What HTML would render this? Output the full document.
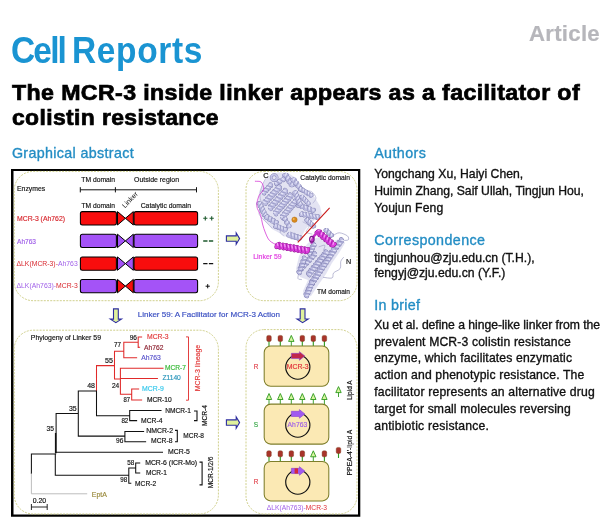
<!DOCTYPE html>
<html lang="en"><head><meta charset="utf-8"><title>Cell Reports - The MCR-3 inside linker appears as a facilitator of colistin resistance</title>
<style>
html,body{margin:0;padding:0;background:#fff;}
body{width:606px;height:530px;position:relative;overflow:hidden;will-change:transform;font-family:"Liberation Sans",Arial,Helvetica,sans-serif;}
.t{position:absolute;white-space:nowrap;line-height:1;margin:0;padding:0;}
svg{position:absolute;left:0;top:0;}
svg text{font-family:"Liberation Sans",Arial,Helvetica,sans-serif;}
</style></head><body>
<div class="t" id="t_cell" style="left:11.30px;top:31.51px;font-size:37.2px;font-weight:bold;color:#1a94d2;letter-spacing:-2.031px;transform-origin:0 0;transform:scaleX(0.9000)">Cell</div>
<div class="t" id="t_cell2" style="left:71.60px;top:31.51px;font-size:37.2px;font-weight:bold;color:#1a94d2;letter-spacing:0.729px;transform-origin:0 0;transform:scaleX(0.9000)">Reports</div>
<div class="t" id="t_art" style="left:528.90px;top:22.51px;font-size:22.2px;font-weight:bold;color:#b6b6bb;letter-spacing:0.290px;-webkit-text-stroke:0.2px #b6b6bb">Article</div>
<div class="t" id="t_title1" style="left:12.40px;top:81.72px;font-size:21.6px;font-weight:bold;color:#000;letter-spacing:0.350px;-webkit-text-stroke:0.7px #000;transform-origin:0 0;transform:scaleX(1.0736)">The MCR-3 inside linker appears as a facilitator of</div>
<div class="t" id="t_title2" style="left:12.40px;top:106.72px;font-size:21.6px;font-weight:bold;color:#000;letter-spacing:0.350px;-webkit-text-stroke:0.7px #000;transform-origin:0 0;transform:scaleX(1.0609)">colistin resistance</div>
<div class="t" id="t_ga" style="left:11.90px;top:146.30px;font-size:14.3px;font-weight:normal;color:#238dc4;letter-spacing:0.340px;-webkit-text-stroke:0.34px #238dc4">Graphical abstract</div>
<div class="t" id="t_auth" style="left:374.20px;top:146.00px;font-size:14.3px;font-weight:normal;color:#238dc4;letter-spacing:0.386px;-webkit-text-stroke:0.34px #238dc4">Authors</div>
<div class="t" id="t_a1" style="left:374.20px;top:167.77px;font-size:12.2px;font-weight:normal;color:#111;letter-spacing:0.016px;-webkit-text-stroke:0.34px #111">Yongchang Xu, Haiyi Chen,</div>
<div class="t" id="t_a2" style="left:374.20px;top:185.07px;font-size:12.2px;font-weight:normal;color:#111;letter-spacing:-0.006px;-webkit-text-stroke:0.34px #111">Huimin Zhang, Saif Ullah, Tingjun Hou,</div>
<div class="t" id="t_a3" style="left:374.20px;top:202.17px;font-size:12.2px;font-weight:normal;color:#111;letter-spacing:0.100px;-webkit-text-stroke:0.34px #111">Youjun Feng</div>
<div class="t" id="t_corr" style="left:374.20px;top:233.00px;font-size:14.3px;font-weight:normal;color:#238dc4;letter-spacing:0.391px;-webkit-text-stroke:0.34px #238dc4">Correspondence</div>
<div class="t" id="t_c1" style="left:374.20px;top:252.07px;font-size:12.2px;font-weight:normal;color:#111;letter-spacing:-0.012px;-webkit-text-stroke:0.34px #111">tingjunhou@zju.edu.cn (T.H.),</div>
<div class="t" id="t_c2" style="left:374.20px;top:267.07px;font-size:12.2px;font-weight:normal;color:#111;letter-spacing:-0.008px;-webkit-text-stroke:0.34px #111">fengyj@zju.edu.cn (Y.F.)</div>
<div class="t" id="t_brief" style="left:374.20px;top:297.90px;font-size:14.3px;font-weight:normal;color:#238dc4;letter-spacing:0.297px;-webkit-text-stroke:0.34px #238dc4">In brief</div>
<div class="t" id="t_b1" style="left:374.20px;top:319.07px;font-size:12.2px;font-weight:normal;color:#111;letter-spacing:-0.041px;-webkit-text-stroke:0.34px #111">Xu et al. define a hinge-like linker from the</div>
<div class="t" id="t_b2" style="left:374.20px;top:335.77px;font-size:12.2px;font-weight:normal;color:#111;letter-spacing:0.142px;-webkit-text-stroke:0.34px #111">prevalent MCR-3 colistin resistance</div>
<div class="t" id="t_b3" style="left:374.20px;top:352.47px;font-size:12.2px;font-weight:normal;color:#111;letter-spacing:0.140px;-webkit-text-stroke:0.34px #111">enzyme, which facilitates enzymatic</div>
<div class="t" id="t_b4" style="left:374.20px;top:369.27px;font-size:12.2px;font-weight:normal;color:#111;letter-spacing:0.139px;-webkit-text-stroke:0.34px #111">action and phenotypic resistance. The</div>
<div class="t" id="t_b5" style="left:374.20px;top:386.07px;font-size:12.2px;font-weight:normal;color:#111;letter-spacing:0.157px;-webkit-text-stroke:0.34px #111">facilitator represents an alternative drug</div>
<div class="t" id="t_b6" style="left:374.20px;top:402.87px;font-size:12.2px;font-weight:normal;color:#111;letter-spacing:0.118px;-webkit-text-stroke:0.34px #111">target for small molecules reversing</div>
<div class="t" id="t_b7" style="left:374.20px;top:419.67px;font-size:12.2px;font-weight:normal;color:#111;letter-spacing:0.208px;-webkit-text-stroke:0.34px #111">antibiotic resistance.</div>
<svg width="606" height="530" viewBox="0 0 606 530">
<path d="M11 169H360.3V516.7H11ZM13.5 171V514.5H358V171Z" fill="#000" fill-rule="evenodd"/>
<rect x="14.2" y="171.4" width="204.2" height="129.3" rx="19" fill="none" stroke="#c4c470" stroke-width="0.8" stroke-dasharray="2 1.2"/>
<rect x="14.2" y="330.2" width="204.2" height="183.8" rx="19" fill="none" stroke="#c4c470" stroke-width="0.8" stroke-dasharray="2 1.2"/>
<rect x="246" y="171.4" width="111" height="129.3" rx="18" fill="none" stroke="#c4c470" stroke-width="0.8" stroke-dasharray="2 1.2"/>
<rect x="246" y="329.6" width="111" height="184.4" rx="18" fill="none" stroke="#c4c470" stroke-width="0.8" stroke-dasharray="2 1.2"/>
<text x="17.0" y="191.0" font-size="6.9" fill="#111" stroke="#111" stroke-width="0.16" textLength="28.2" lengthAdjust="spacingAndGlyphs">Enzymes</text>
<text x="81.3" y="181.8" font-size="6.9" fill="#111" stroke="#111" stroke-width="0.16" textLength="33.7" lengthAdjust="spacingAndGlyphs">TM domain</text>
<text x="134.0" y="181.8" font-size="6.9" fill="#111" stroke="#111" stroke-width="0.16" textLength="45.0" lengthAdjust="spacingAndGlyphs">Outside region</text>
<path d="M80.3 189.8H196.5M80.3 187.2V192.4M115.4 187.2V192.4M196.5 187.2V192.4" stroke="#111" stroke-width="1" fill="none"/>
<text x="81.5" y="207.6" font-size="6.9" fill="#111" stroke="#111" stroke-width="0.16" textLength="33.5" lengthAdjust="spacingAndGlyphs">TM domain</text>
<text x="140.7" y="207.6" font-size="6.9" fill="#111" stroke="#111" stroke-width="0.16" textLength="50.3" lengthAdjust="spacingAndGlyphs">Catalytic domain</text>
<text x="125" y="208.5" font-size="6.9" fill="#111" textLength="19.5" lengthAdjust="spacingAndGlyphs" transform="rotate(-47 125 208.5)">Linker</text>
<rect x="80.4" y="211.6" width="36" height="13.4" rx="2" fill="#f80d0d" stroke="#000" stroke-width="1.05"/>
<path d="M117.5 211.6L125.4 218.29999999999998L117.5 225.0ZM133.3 211.6L125.4 218.29999999999998L133.3 225.0Z" fill="#f80d0d" stroke="#000" stroke-width="1.0" stroke-linejoin="round"/>
<rect x="134" y="211.6" width="63.6" height="13.4" rx="2" fill="#f80d0d" stroke="#000" stroke-width="1.05"/>
<rect x="80.4" y="234.2" width="36" height="13.4" rx="2" fill="#a453f7" stroke="#000" stroke-width="1.05"/>
<path d="M117.5 234.2L125.4 240.89999999999998L117.5 247.6ZM133.3 234.2L125.4 240.89999999999998L133.3 247.6Z" fill="#a453f7" stroke="#000" stroke-width="1.0" stroke-linejoin="round"/>
<rect x="134" y="234.2" width="63.6" height="13.4" rx="2" fill="#a453f7" stroke="#000" stroke-width="1.05"/>
<rect x="80.4" y="256.9" width="36" height="13.4" rx="2" fill="#f80d0d" stroke="#000" stroke-width="1.05"/>
<path d="M117.5 256.9L125.4 263.59999999999997L117.5 270.29999999999995ZM133.3 256.9L125.4 263.59999999999997L133.3 270.29999999999995Z" fill="#a453f7" stroke="#000" stroke-width="1.0" stroke-linejoin="round"/>
<rect x="134" y="256.9" width="63.6" height="13.4" rx="2" fill="#f80d0d" stroke="#000" stroke-width="1.05"/>
<rect x="80.4" y="279.4" width="36" height="13.4" rx="2" fill="#a453f7" stroke="#000" stroke-width="1.05"/>
<path d="M117.5 279.4L125.4 286.09999999999997L117.5 292.79999999999995ZM133.3 279.4L125.4 286.09999999999997L133.3 292.79999999999995Z" fill="#f80d0d" stroke="#000" stroke-width="1.0" stroke-linejoin="round"/>
<rect x="134" y="279.4" width="63.6" height="13.4" rx="2" fill="#a453f7" stroke="#000" stroke-width="1.05"/>
<text x="17.0" y="220.8" font-size="6.9" fill="#d8282f" stroke="#d8282f" stroke-width="0.16" textLength="48.0" lengthAdjust="spacingAndGlyphs">MCR-3 (Ah762)</text>
<text x="17.0" y="243.6" font-size="6.9" fill="#a060e8" stroke="#a060e8" stroke-width="0.16" textLength="19.0" lengthAdjust="spacingAndGlyphs">Ah763</text>
<text x="16.5" y="265.8" font-size="6.9" textLength="61.2" lengthAdjust="spacingAndGlyphs"><tspan fill="#d8282f">ΔLK(MCR-3)-</tspan><tspan fill="#a060e8">Ah763</tspan></text>
<text x="16.5" y="288.2" font-size="6.9" textLength="61.2" lengthAdjust="spacingAndGlyphs"><tspan fill="#a060e8">ΔLK(Ah763)-</tspan><tspan fill="#d8282f">MCR-3</tspan></text>
<path d="M203.2 218.3h4.2M205.3 216.2v4.2M209.6 218.3h4.2M211.7 216.2v4.2" stroke="#1e5a2e" stroke-width="1.1"/>
<path d="M203.2 241h4.3M208.9 241h4.3" stroke="#1e5a2e" stroke-width="1.4"/>
<path d="M203.2 263.6h4.3M208.9 263.6h4.3" stroke="#111" stroke-width="1.3"/>
<path d="M205.6 286.2h4.2M207.7 284.1v4.2" stroke="#111" stroke-width="1"/>
<path d="M113.5 308.9H118.30000000000001V319.1H121.5L115.9 322.70000000000005L110.30000000000001 319.1H113.5Z" fill="#e0f19c" stroke="#2c2ca0" stroke-width="1.1" stroke-linejoin="miter"/>
<path d="M300.20000000000005 308.9H305.0V319.0H308.20000000000005L302.6 322.6L297.0 319.0H300.20000000000005Z" fill="#e0f19c" stroke="#2c2ca0" stroke-width="1.1" stroke-linejoin="miter"/>
<path d="M226.4 235.9H236.2V233.0L239.6 238.6L236.2 244.2V241.29999999999998H226.4Z" fill="#e0f19c" stroke="#2c2ca0" stroke-width="1.1" stroke-linejoin="miter"/>
<path d="M226.4 419.90000000000003H236.2V417.0L239.6 422.6L236.2 428.20000000000005V425.3H226.4Z" fill="#e0f19c" stroke="#2c2ca0" stroke-width="1.1" stroke-linejoin="miter"/>
<text x="137.7" y="317.0" font-size="7.2" fill="#3a4fc2" stroke="#3a4fc2" stroke-width="0.16" textLength="142.3" lengthAdjust="spacingAndGlyphs">Linker 59: A Facilitator for MCR-3 Action</text>
<defs><filter id="soft" x="-5%" y="-5%" width="110%" height="110%"><feGaussianBlur stdDeviation="0.4"/></filter></defs>
<g id="protein">
<g filter="url(#soft)">
<path d="M268 176 L278 172.5 L288 173 L296 178 L301 187 L312 193 L320 206 L322 215 L312 222 L305 230 L301 238 L292 240 L283 235 L272 229 L263 219 L258 206 L259 192 L263 183Z" fill="#d0d0ea" opacity="0.6"/>
<path d="M308 243 L316 238 L329 236 L334 241 L341 238 L345 243 L339 253 L332 263 L326 274 L319 284 L311 296 L304 298 L303 291 L308 280 L300 277 L296 269 L299 256 L304 248Z" fill="#d0d0ea" opacity="0.6"/>
<path d="M266.0 178.0 C265.3 179.3 263.0 183.0 262.0 186.0 C261.0 189.0 260.0 192.5 260.0 196.0 C260.0 199.5 262.2 204.0 262.0 207.0 C261.8 210.0 258.3 211.5 259.0 214.0 C259.7 216.5 263.8 219.7 266.0 222.0 C268.2 224.3 271.0 227.0 272.0 228.0" fill="none" stroke="#a4a4cc" stroke-width="0.6" stroke-linejoin="round" stroke-linecap="round"/>
<path d="M300.0 186.0 C301.0 186.7 304.0 189.0 306.0 190.0 C308.0 191.0 310.3 190.7 312.0 192.0 C313.7 193.3 315.8 196.2 316.0 198.0 C316.2 199.8 313.5 202.2 313.0 203.0" fill="none" stroke="#a4a4cc" stroke-width="0.6" stroke-linejoin="round" stroke-linecap="round"/>
<path d="M303.0 222.0 C304.0 222.7 308.5 224.3 309.0 226.0 C309.5 227.7 305.5 230.7 306.0 232.0 C306.5 233.3 311.0 233.7 312.0 234.0" fill="none" stroke="#a4a4cc" stroke-width="0.6" stroke-linejoin="round" stroke-linecap="round"/>
<path d="M285.0 228.0 C284.2 228.7 280.2 230.7 280.0 232.0 C279.8 233.3 283.3 235.3 284.0 236.0" fill="none" stroke="#a4a4cc" stroke-width="0.6" stroke-linejoin="round" stroke-linecap="round"/>
<path d="M333.6 235.2 C334.6 234.8 337.1 232.7 339.4 232.8 C341.7 232.9 345.9 234.7 347.4 235.9 C348.9 237.1 348.9 239.1 348.3 239.8 C347.7 240.6 344.5 240.3 343.7 240.4" fill="none" stroke="#8f8fba" stroke-width="0.6" stroke-linejoin="round" stroke-linecap="round"/>
<path d="M319.0 246.8 C320.0 246.6 324.1 244.7 324.8 245.3 C325.5 245.9 323.6 249.6 323.4 250.4" fill="none" stroke="#8f8fba" stroke-width="0.55" stroke-linejoin="round" stroke-linecap="round"/>
<path d="M343.5 257.5 C343.1 258.1 341.4 259.4 340.8 261.3 C340.2 263.2 341.3 266.7 340.1 268.6 C338.9 270.5 334.9 271.3 333.6 272.9 C332.3 274.5 333.8 277.3 332.1 278.0 C330.4 278.7 324.8 277.4 323.4 277.3" fill="none" stroke="#8686b4" stroke-width="0.55" stroke-linejoin="round" stroke-linecap="round"/>
<path d="M299.0 272.5 C298.8 273.5 297.6 277.3 298.0 278.5 C298.4 279.7 300.9 279.3 301.5 279.5" fill="none" stroke="#8f8fba" stroke-width="0.6" stroke-linejoin="round" stroke-linecap="round"/>
<g transform="translate(285.5 175.3) rotate(55.6)" stroke-linecap="round"><ellipse cx="0.00" cy="0" rx="2.17" ry="3.42" transform="rotate(30 0.00 0)" fill="#7e7eb0"/><ellipse cx="3.84" cy="0" rx="2.17" ry="3.42" transform="rotate(30 3.84 0)" fill="#7e7eb0"/><ellipse cx="7.67" cy="0" rx="2.17" ry="3.42" transform="rotate(30 7.67 0)" fill="#7e7eb0"/><ellipse cx="11.51" cy="0" rx="2.17" ry="3.42" transform="rotate(30 11.51 0)" fill="#7e7eb0"/><path d="M0 0H11.51" stroke="#7e7eb0" stroke-width="4.80" fill="none"/><ellipse cx="0.00" cy="0" rx="1.75" ry="3.00" transform="rotate(30 0.00 0)" fill="#bfbfe3"/><ellipse cx="3.84" cy="0" rx="1.75" ry="3.00" transform="rotate(30 3.84 0)" fill="#bfbfe3"/><ellipse cx="7.67" cy="0" rx="1.75" ry="3.00" transform="rotate(30 7.67 0)" fill="#bfbfe3"/><ellipse cx="11.51" cy="0" rx="1.75" ry="3.00" transform="rotate(30 11.51 0)" fill="#bfbfe3"/><path d="M0 0H11.51" stroke="#bfbfe3" stroke-width="3.96" fill="none"/><path d="M0.70 -2.25L2.80 2.25" stroke="#9898c6" stroke-width="0.77" stroke-linecap="butt" fill="none"/><path d="M-0.84 -1.80L0.00 0.00" stroke="#e6e6f8" stroke-width="1.12" fill="none"/><path d="M4.54 -2.25L6.64 2.25" stroke="#9898c6" stroke-width="0.77" stroke-linecap="butt" fill="none"/><path d="M3.00 -1.80L3.84 0.00" stroke="#e6e6f8" stroke-width="1.12" fill="none"/><path d="M8.37 -2.25L10.47 2.25" stroke="#9898c6" stroke-width="0.77" stroke-linecap="butt" fill="none"/><path d="M6.83 -1.80L7.67 0.00" stroke="#e6e6f8" stroke-width="1.12" fill="none"/><path d="M10.67 -1.80L11.51 0.00" stroke="#e6e6f8" stroke-width="1.12" fill="none"/></g>
<g transform="translate(293.5 179.8) rotate(51.7)" stroke-linecap="round"><ellipse cx="0.00" cy="0" rx="2.17" ry="3.22" transform="rotate(30 0.00 0)" fill="#7e7eb0"/><ellipse cx="4.03" cy="0" rx="2.17" ry="3.22" transform="rotate(30 4.03 0)" fill="#7e7eb0"/><ellipse cx="8.07" cy="0" rx="2.17" ry="3.22" transform="rotate(30 8.07 0)" fill="#7e7eb0"/><ellipse cx="12.10" cy="0" rx="2.17" ry="3.22" transform="rotate(30 12.10 0)" fill="#7e7eb0"/><path d="M0 0H12.10" stroke="#7e7eb0" stroke-width="4.48" fill="none"/><ellipse cx="0.00" cy="0" rx="1.75" ry="2.80" transform="rotate(30 0.00 0)" fill="#bfbfe3"/><ellipse cx="4.03" cy="0" rx="1.75" ry="2.80" transform="rotate(30 4.03 0)" fill="#bfbfe3"/><ellipse cx="8.07" cy="0" rx="1.75" ry="2.80" transform="rotate(30 8.07 0)" fill="#bfbfe3"/><ellipse cx="12.10" cy="0" rx="1.75" ry="2.80" transform="rotate(30 12.10 0)" fill="#bfbfe3"/><path d="M0 0H12.10" stroke="#bfbfe3" stroke-width="3.64" fill="none"/><path d="M0.70 -2.10L2.80 2.10" stroke="#9898c6" stroke-width="0.77" stroke-linecap="butt" fill="none"/><path d="M-0.84 -1.68L0.00 0.00" stroke="#e6e6f8" stroke-width="1.12" fill="none"/><path d="M4.73 -2.10L6.83 2.10" stroke="#9898c6" stroke-width="0.77" stroke-linecap="butt" fill="none"/><path d="M3.19 -1.68L4.03 0.00" stroke="#e6e6f8" stroke-width="1.12" fill="none"/><path d="M8.77 -2.10L10.87 2.10" stroke="#9898c6" stroke-width="0.77" stroke-linecap="butt" fill="none"/><path d="M7.23 -1.68L8.07 0.00" stroke="#e6e6f8" stroke-width="1.12" fill="none"/><path d="M11.26 -1.68L12.10 0.00" stroke="#e6e6f8" stroke-width="1.12" fill="none"/></g>
<g transform="translate(300.6 188.9) rotate(31.8)" stroke-linecap="round"><ellipse cx="0.00" cy="0" rx="2.17" ry="2.52" transform="rotate(30 0.00 0)" fill="#7e7eb0"/><ellipse cx="3.09" cy="0" rx="2.17" ry="2.52" transform="rotate(30 3.09 0)" fill="#7e7eb0"/><ellipse cx="6.17" cy="0" rx="2.17" ry="2.52" transform="rotate(30 6.17 0)" fill="#7e7eb0"/><ellipse cx="9.26" cy="0" rx="2.17" ry="2.52" transform="rotate(30 9.26 0)" fill="#7e7eb0"/><ellipse cx="12.35" cy="0" rx="2.17" ry="2.52" transform="rotate(30 12.35 0)" fill="#7e7eb0"/><path d="M0 0H12.35" stroke="#7e7eb0" stroke-width="3.36" fill="none"/><ellipse cx="0.00" cy="0" rx="1.75" ry="2.10" transform="rotate(30 0.00 0)" fill="#bfbfe3"/><ellipse cx="3.09" cy="0" rx="1.75" ry="2.10" transform="rotate(30 3.09 0)" fill="#bfbfe3"/><ellipse cx="6.17" cy="0" rx="1.75" ry="2.10" transform="rotate(30 6.17 0)" fill="#bfbfe3"/><ellipse cx="9.26" cy="0" rx="1.75" ry="2.10" transform="rotate(30 9.26 0)" fill="#bfbfe3"/><ellipse cx="12.35" cy="0" rx="1.75" ry="2.10" transform="rotate(30 12.35 0)" fill="#bfbfe3"/><path d="M0 0H12.35" stroke="#bfbfe3" stroke-width="2.52" fill="none"/><path d="M0.70 -1.58L2.80 1.58" stroke="#9898c6" stroke-width="0.77" stroke-linecap="butt" fill="none"/><path d="M-0.84 -1.26L0.00 0.00" stroke="#e6e6f8" stroke-width="1.12" fill="none"/><path d="M3.79 -1.58L5.89 1.58" stroke="#9898c6" stroke-width="0.77" stroke-linecap="butt" fill="none"/><path d="M2.25 -1.26L3.09 0.00" stroke="#e6e6f8" stroke-width="1.12" fill="none"/><path d="M6.87 -1.58L8.97 1.58" stroke="#9898c6" stroke-width="0.77" stroke-linecap="butt" fill="none"/><path d="M5.33 -1.26L6.17 0.00" stroke="#e6e6f8" stroke-width="1.12" fill="none"/><path d="M9.96 -1.58L12.06 1.58" stroke="#9898c6" stroke-width="0.77" stroke-linecap="butt" fill="none"/><path d="M8.42 -1.26L9.26 0.00" stroke="#e6e6f8" stroke-width="1.12" fill="none"/><path d="M11.51 -1.26L12.35 0.00" stroke="#e6e6f8" stroke-width="1.12" fill="none"/></g>
<g transform="translate(265.1 202.5) rotate(-46.6)" stroke-linecap="round"><ellipse cx="0.00" cy="0" rx="2.17" ry="3.52" transform="rotate(30 0.00 0)" fill="#7e7eb0"/><ellipse cx="3.47" cy="0" rx="2.17" ry="3.52" transform="rotate(30 3.47 0)" fill="#7e7eb0"/><ellipse cx="6.93" cy="0" rx="2.17" ry="3.52" transform="rotate(30 6.93 0)" fill="#7e7eb0"/><ellipse cx="10.40" cy="0" rx="2.17" ry="3.52" transform="rotate(30 10.40 0)" fill="#7e7eb0"/><ellipse cx="13.86" cy="0" rx="2.17" ry="3.52" transform="rotate(30 13.86 0)" fill="#7e7eb0"/><ellipse cx="17.33" cy="0" rx="2.17" ry="3.52" transform="rotate(30 17.33 0)" fill="#7e7eb0"/><ellipse cx="20.80" cy="0" rx="2.17" ry="3.52" transform="rotate(30 20.80 0)" fill="#7e7eb0"/><path d="M0 0H20.80" stroke="#7e7eb0" stroke-width="4.96" fill="none"/><ellipse cx="0.00" cy="0" rx="1.75" ry="3.10" transform="rotate(30 0.00 0)" fill="#bfbfe3"/><ellipse cx="3.47" cy="0" rx="1.75" ry="3.10" transform="rotate(30 3.47 0)" fill="#bfbfe3"/><ellipse cx="6.93" cy="0" rx="1.75" ry="3.10" transform="rotate(30 6.93 0)" fill="#bfbfe3"/><ellipse cx="10.40" cy="0" rx="1.75" ry="3.10" transform="rotate(30 10.40 0)" fill="#bfbfe3"/><ellipse cx="13.86" cy="0" rx="1.75" ry="3.10" transform="rotate(30 13.86 0)" fill="#bfbfe3"/><ellipse cx="17.33" cy="0" rx="1.75" ry="3.10" transform="rotate(30 17.33 0)" fill="#bfbfe3"/><ellipse cx="20.80" cy="0" rx="1.75" ry="3.10" transform="rotate(30 20.80 0)" fill="#bfbfe3"/><path d="M0 0H20.80" stroke="#bfbfe3" stroke-width="4.12" fill="none"/><path d="M0.70 -2.33L2.80 2.33" stroke="#9898c6" stroke-width="0.77" stroke-linecap="butt" fill="none"/><path d="M-0.84 -1.86L0.00 0.00" stroke="#e6e6f8" stroke-width="1.12" fill="none"/><path d="M4.17 -2.33L6.27 2.33" stroke="#9898c6" stroke-width="0.77" stroke-linecap="butt" fill="none"/><path d="M2.63 -1.86L3.47 0.00" stroke="#e6e6f8" stroke-width="1.12" fill="none"/><path d="M7.63 -2.33L9.73 2.33" stroke="#9898c6" stroke-width="0.77" stroke-linecap="butt" fill="none"/><path d="M6.09 -1.86L6.93 0.00" stroke="#e6e6f8" stroke-width="1.12" fill="none"/><path d="M11.10 -2.33L13.20 2.33" stroke="#9898c6" stroke-width="0.77" stroke-linecap="butt" fill="none"/><path d="M9.56 -1.86L10.40 0.00" stroke="#e6e6f8" stroke-width="1.12" fill="none"/><path d="M14.56 -2.33L16.66 2.33" stroke="#9898c6" stroke-width="0.77" stroke-linecap="butt" fill="none"/><path d="M13.02 -1.86L13.86 0.00" stroke="#e6e6f8" stroke-width="1.12" fill="none"/><path d="M18.03 -2.33L20.13 2.33" stroke="#9898c6" stroke-width="0.77" stroke-linecap="butt" fill="none"/><path d="M16.49 -1.86L17.33 0.00" stroke="#e6e6f8" stroke-width="1.12" fill="none"/><path d="M19.96 -1.86L20.80 0.00" stroke="#e6e6f8" stroke-width="1.12" fill="none"/></g>
<g transform="translate(270.4 207.7) rotate(-47.7)" stroke-linecap="round"><ellipse cx="0.00" cy="0" rx="2.17" ry="3.52" transform="rotate(30 0.00 0)" fill="#7e7eb0"/><ellipse cx="3.74" cy="0" rx="2.17" ry="3.52" transform="rotate(30 3.74 0)" fill="#7e7eb0"/><ellipse cx="7.48" cy="0" rx="2.17" ry="3.52" transform="rotate(30 7.48 0)" fill="#7e7eb0"/><ellipse cx="11.22" cy="0" rx="2.17" ry="3.52" transform="rotate(30 11.22 0)" fill="#7e7eb0"/><ellipse cx="14.96" cy="0" rx="2.17" ry="3.52" transform="rotate(30 14.96 0)" fill="#7e7eb0"/><ellipse cx="18.70" cy="0" rx="2.17" ry="3.52" transform="rotate(30 18.70 0)" fill="#7e7eb0"/><ellipse cx="22.44" cy="0" rx="2.17" ry="3.52" transform="rotate(30 22.44 0)" fill="#7e7eb0"/><path d="M0 0H22.44" stroke="#7e7eb0" stroke-width="4.96" fill="none"/><ellipse cx="0.00" cy="0" rx="1.75" ry="3.10" transform="rotate(30 0.00 0)" fill="#bfbfe3"/><ellipse cx="3.74" cy="0" rx="1.75" ry="3.10" transform="rotate(30 3.74 0)" fill="#bfbfe3"/><ellipse cx="7.48" cy="0" rx="1.75" ry="3.10" transform="rotate(30 7.48 0)" fill="#bfbfe3"/><ellipse cx="11.22" cy="0" rx="1.75" ry="3.10" transform="rotate(30 11.22 0)" fill="#bfbfe3"/><ellipse cx="14.96" cy="0" rx="1.75" ry="3.10" transform="rotate(30 14.96 0)" fill="#bfbfe3"/><ellipse cx="18.70" cy="0" rx="1.75" ry="3.10" transform="rotate(30 18.70 0)" fill="#bfbfe3"/><ellipse cx="22.44" cy="0" rx="1.75" ry="3.10" transform="rotate(30 22.44 0)" fill="#bfbfe3"/><path d="M0 0H22.44" stroke="#bfbfe3" stroke-width="4.12" fill="none"/><path d="M0.70 -2.33L2.80 2.33" stroke="#9898c6" stroke-width="0.77" stroke-linecap="butt" fill="none"/><path d="M-0.84 -1.86L0.00 0.00" stroke="#e6e6f8" stroke-width="1.12" fill="none"/><path d="M4.44 -2.33L6.54 2.33" stroke="#9898c6" stroke-width="0.77" stroke-linecap="butt" fill="none"/><path d="M2.90 -1.86L3.74 0.00" stroke="#e6e6f8" stroke-width="1.12" fill="none"/><path d="M8.18 -2.33L10.28 2.33" stroke="#9898c6" stroke-width="0.77" stroke-linecap="butt" fill="none"/><path d="M6.64 -1.86L7.48 0.00" stroke="#e6e6f8" stroke-width="1.12" fill="none"/><path d="M11.92 -2.33L14.02 2.33" stroke="#9898c6" stroke-width="0.77" stroke-linecap="butt" fill="none"/><path d="M10.38 -1.86L11.22 0.00" stroke="#e6e6f8" stroke-width="1.12" fill="none"/><path d="M15.66 -2.33L17.76 2.33" stroke="#9898c6" stroke-width="0.77" stroke-linecap="butt" fill="none"/><path d="M14.12 -1.86L14.96 0.00" stroke="#e6e6f8" stroke-width="1.12" fill="none"/><path d="M19.40 -2.33L21.50 2.33" stroke="#9898c6" stroke-width="0.77" stroke-linecap="butt" fill="none"/><path d="M17.86 -1.86L18.70 0.00" stroke="#e6e6f8" stroke-width="1.12" fill="none"/><path d="M21.60 -1.86L22.44 0.00" stroke="#e6e6f8" stroke-width="1.12" fill="none"/></g>
<g transform="translate(275.7 213.0) rotate(-48.9)" stroke-linecap="round"><ellipse cx="0.00" cy="0" rx="2.17" ry="3.52" transform="rotate(30 0.00 0)" fill="#7e7eb0"/><ellipse cx="3.28" cy="0" rx="2.17" ry="3.52" transform="rotate(30 3.28 0)" fill="#7e7eb0"/><ellipse cx="6.56" cy="0" rx="2.17" ry="3.52" transform="rotate(30 6.56 0)" fill="#7e7eb0"/><ellipse cx="9.84" cy="0" rx="2.17" ry="3.52" transform="rotate(30 9.84 0)" fill="#7e7eb0"/><ellipse cx="13.12" cy="0" rx="2.17" ry="3.52" transform="rotate(30 13.12 0)" fill="#7e7eb0"/><ellipse cx="16.40" cy="0" rx="2.17" ry="3.52" transform="rotate(30 16.40 0)" fill="#7e7eb0"/><ellipse cx="19.68" cy="0" rx="2.17" ry="3.52" transform="rotate(30 19.68 0)" fill="#7e7eb0"/><ellipse cx="22.96" cy="0" rx="2.17" ry="3.52" transform="rotate(30 22.96 0)" fill="#7e7eb0"/><path d="M0 0H22.96" stroke="#7e7eb0" stroke-width="4.96" fill="none"/><ellipse cx="0.00" cy="0" rx="1.75" ry="3.10" transform="rotate(30 0.00 0)" fill="#bfbfe3"/><ellipse cx="3.28" cy="0" rx="1.75" ry="3.10" transform="rotate(30 3.28 0)" fill="#bfbfe3"/><ellipse cx="6.56" cy="0" rx="1.75" ry="3.10" transform="rotate(30 6.56 0)" fill="#bfbfe3"/><ellipse cx="9.84" cy="0" rx="1.75" ry="3.10" transform="rotate(30 9.84 0)" fill="#bfbfe3"/><ellipse cx="13.12" cy="0" rx="1.75" ry="3.10" transform="rotate(30 13.12 0)" fill="#bfbfe3"/><ellipse cx="16.40" cy="0" rx="1.75" ry="3.10" transform="rotate(30 16.40 0)" fill="#bfbfe3"/><ellipse cx="19.68" cy="0" rx="1.75" ry="3.10" transform="rotate(30 19.68 0)" fill="#bfbfe3"/><ellipse cx="22.96" cy="0" rx="1.75" ry="3.10" transform="rotate(30 22.96 0)" fill="#bfbfe3"/><path d="M0 0H22.96" stroke="#bfbfe3" stroke-width="4.12" fill="none"/><path d="M0.70 -2.33L2.80 2.33" stroke="#9898c6" stroke-width="0.77" stroke-linecap="butt" fill="none"/><path d="M-0.84 -1.86L0.00 0.00" stroke="#e6e6f8" stroke-width="1.12" fill="none"/><path d="M3.98 -2.33L6.08 2.33" stroke="#9898c6" stroke-width="0.77" stroke-linecap="butt" fill="none"/><path d="M2.44 -1.86L3.28 0.00" stroke="#e6e6f8" stroke-width="1.12" fill="none"/><path d="M7.26 -2.33L9.36 2.33" stroke="#9898c6" stroke-width="0.77" stroke-linecap="butt" fill="none"/><path d="M5.72 -1.86L6.56 0.00" stroke="#e6e6f8" stroke-width="1.12" fill="none"/><path d="M10.54 -2.33L12.64 2.33" stroke="#9898c6" stroke-width="0.77" stroke-linecap="butt" fill="none"/><path d="M9.00 -1.86L9.84 0.00" stroke="#e6e6f8" stroke-width="1.12" fill="none"/><path d="M13.82 -2.33L15.92 2.33" stroke="#9898c6" stroke-width="0.77" stroke-linecap="butt" fill="none"/><path d="M12.28 -1.86L13.12 0.00" stroke="#e6e6f8" stroke-width="1.12" fill="none"/><path d="M17.10 -2.33L19.20 2.33" stroke="#9898c6" stroke-width="0.77" stroke-linecap="butt" fill="none"/><path d="M15.56 -1.86L16.40 0.00" stroke="#e6e6f8" stroke-width="1.12" fill="none"/><path d="M20.38 -2.33L22.48 2.33" stroke="#9898c6" stroke-width="0.77" stroke-linecap="butt" fill="none"/><path d="M18.84 -1.86L19.68 0.00" stroke="#e6e6f8" stroke-width="1.12" fill="none"/><path d="M22.12 -1.86L22.96 0.00" stroke="#e6e6f8" stroke-width="1.12" fill="none"/></g>
<g transform="translate(282.5 217.1) rotate(-49.7)" stroke-linecap="round"><ellipse cx="0.00" cy="0" rx="2.17" ry="3.42" transform="rotate(30 0.00 0)" fill="#7e7eb0"/><ellipse cx="3.30" cy="0" rx="2.17" ry="3.42" transform="rotate(30 3.30 0)" fill="#7e7eb0"/><ellipse cx="6.60" cy="0" rx="2.17" ry="3.42" transform="rotate(30 6.60 0)" fill="#7e7eb0"/><ellipse cx="9.90" cy="0" rx="2.17" ry="3.42" transform="rotate(30 9.90 0)" fill="#7e7eb0"/><ellipse cx="13.20" cy="0" rx="2.17" ry="3.42" transform="rotate(30 13.20 0)" fill="#7e7eb0"/><ellipse cx="16.50" cy="0" rx="2.17" ry="3.42" transform="rotate(30 16.50 0)" fill="#7e7eb0"/><ellipse cx="19.80" cy="0" rx="2.17" ry="3.42" transform="rotate(30 19.80 0)" fill="#7e7eb0"/><path d="M0 0H19.80" stroke="#7e7eb0" stroke-width="4.80" fill="none"/><ellipse cx="0.00" cy="0" rx="1.75" ry="3.00" transform="rotate(30 0.00 0)" fill="#bfbfe3"/><ellipse cx="3.30" cy="0" rx="1.75" ry="3.00" transform="rotate(30 3.30 0)" fill="#bfbfe3"/><ellipse cx="6.60" cy="0" rx="1.75" ry="3.00" transform="rotate(30 6.60 0)" fill="#bfbfe3"/><ellipse cx="9.90" cy="0" rx="1.75" ry="3.00" transform="rotate(30 9.90 0)" fill="#bfbfe3"/><ellipse cx="13.20" cy="0" rx="1.75" ry="3.00" transform="rotate(30 13.20 0)" fill="#bfbfe3"/><ellipse cx="16.50" cy="0" rx="1.75" ry="3.00" transform="rotate(30 16.50 0)" fill="#bfbfe3"/><ellipse cx="19.80" cy="0" rx="1.75" ry="3.00" transform="rotate(30 19.80 0)" fill="#bfbfe3"/><path d="M0 0H19.80" stroke="#bfbfe3" stroke-width="3.96" fill="none"/><path d="M0.70 -2.25L2.80 2.25" stroke="#9898c6" stroke-width="0.77" stroke-linecap="butt" fill="none"/><path d="M-0.84 -1.80L0.00 0.00" stroke="#e6e6f8" stroke-width="1.12" fill="none"/><path d="M4.00 -2.25L6.10 2.25" stroke="#9898c6" stroke-width="0.77" stroke-linecap="butt" fill="none"/><path d="M2.46 -1.80L3.30 0.00" stroke="#e6e6f8" stroke-width="1.12" fill="none"/><path d="M7.30 -2.25L9.40 2.25" stroke="#9898c6" stroke-width="0.77" stroke-linecap="butt" fill="none"/><path d="M5.76 -1.80L6.60 0.00" stroke="#e6e6f8" stroke-width="1.12" fill="none"/><path d="M10.60 -2.25L12.70 2.25" stroke="#9898c6" stroke-width="0.77" stroke-linecap="butt" fill="none"/><path d="M9.06 -1.80L9.90 0.00" stroke="#e6e6f8" stroke-width="1.12" fill="none"/><path d="M13.90 -2.25L16.00 2.25" stroke="#9898c6" stroke-width="0.77" stroke-linecap="butt" fill="none"/><path d="M12.36 -1.80L13.20 0.00" stroke="#e6e6f8" stroke-width="1.12" fill="none"/><path d="M17.20 -2.25L19.30 2.25" stroke="#9898c6" stroke-width="0.77" stroke-linecap="butt" fill="none"/><path d="M15.66 -1.80L16.50 0.00" stroke="#e6e6f8" stroke-width="1.12" fill="none"/><path d="M18.96 -1.80L19.80 0.00" stroke="#e6e6f8" stroke-width="1.12" fill="none"/></g>
<g transform="translate(259.4 203.5) rotate(64.8)" stroke-linecap="round"><ellipse cx="0.00" cy="0" rx="2.17" ry="3.12" transform="rotate(30 0.00 0)" fill="#7e7eb0"/><ellipse cx="3.18" cy="0" rx="2.17" ry="3.12" transform="rotate(30 3.18 0)" fill="#7e7eb0"/><ellipse cx="6.35" cy="0" rx="2.17" ry="3.12" transform="rotate(30 6.35 0)" fill="#7e7eb0"/><ellipse cx="9.53" cy="0" rx="2.17" ry="3.12" transform="rotate(30 9.53 0)" fill="#7e7eb0"/><ellipse cx="12.70" cy="0" rx="2.17" ry="3.12" transform="rotate(30 12.70 0)" fill="#7e7eb0"/><path d="M0 0H12.70" stroke="#7e7eb0" stroke-width="4.32" fill="none"/><ellipse cx="0.00" cy="0" rx="1.75" ry="2.70" transform="rotate(30 0.00 0)" fill="#bfbfe3"/><ellipse cx="3.18" cy="0" rx="1.75" ry="2.70" transform="rotate(30 3.18 0)" fill="#bfbfe3"/><ellipse cx="6.35" cy="0" rx="1.75" ry="2.70" transform="rotate(30 6.35 0)" fill="#bfbfe3"/><ellipse cx="9.53" cy="0" rx="1.75" ry="2.70" transform="rotate(30 9.53 0)" fill="#bfbfe3"/><ellipse cx="12.70" cy="0" rx="1.75" ry="2.70" transform="rotate(30 12.70 0)" fill="#bfbfe3"/><path d="M0 0H12.70" stroke="#bfbfe3" stroke-width="3.48" fill="none"/><path d="M0.70 -2.03L2.80 2.03" stroke="#9898c6" stroke-width="0.77" stroke-linecap="butt" fill="none"/><path d="M-0.84 -1.62L0.00 0.00" stroke="#e6e6f8" stroke-width="1.12" fill="none"/><path d="M3.88 -2.03L5.98 2.03" stroke="#9898c6" stroke-width="0.77" stroke-linecap="butt" fill="none"/><path d="M2.34 -1.62L3.18 0.00" stroke="#e6e6f8" stroke-width="1.12" fill="none"/><path d="M7.05 -2.03L9.15 2.03" stroke="#9898c6" stroke-width="0.77" stroke-linecap="butt" fill="none"/><path d="M5.51 -1.62L6.35 0.00" stroke="#e6e6f8" stroke-width="1.12" fill="none"/><path d="M10.23 -2.03L12.33 2.03" stroke="#9898c6" stroke-width="0.77" stroke-linecap="butt" fill="none"/><path d="M8.69 -1.62L9.53 0.00" stroke="#e6e6f8" stroke-width="1.12" fill="none"/><path d="M11.86 -1.62L12.70 0.00" stroke="#e6e6f8" stroke-width="1.12" fill="none"/></g>
<g transform="translate(266.9 217.1) rotate(32.1)" stroke-linecap="round"><ellipse cx="0.00" cy="0" rx="2.17" ry="3.12" transform="rotate(30 0.00 0)" fill="#7e7eb0"/><ellipse cx="3.58" cy="0" rx="2.17" ry="3.12" transform="rotate(30 3.58 0)" fill="#7e7eb0"/><ellipse cx="7.16" cy="0" rx="2.17" ry="3.12" transform="rotate(30 7.16 0)" fill="#7e7eb0"/><ellipse cx="10.74" cy="0" rx="2.17" ry="3.12" transform="rotate(30 10.74 0)" fill="#7e7eb0"/><path d="M0 0H10.74" stroke="#7e7eb0" stroke-width="4.32" fill="none"/><ellipse cx="0.00" cy="0" rx="1.75" ry="2.70" transform="rotate(30 0.00 0)" fill="#bfbfe3"/><ellipse cx="3.58" cy="0" rx="1.75" ry="2.70" transform="rotate(30 3.58 0)" fill="#bfbfe3"/><ellipse cx="7.16" cy="0" rx="1.75" ry="2.70" transform="rotate(30 7.16 0)" fill="#bfbfe3"/><ellipse cx="10.74" cy="0" rx="1.75" ry="2.70" transform="rotate(30 10.74 0)" fill="#bfbfe3"/><path d="M0 0H10.74" stroke="#bfbfe3" stroke-width="3.48" fill="none"/><path d="M0.70 -2.03L2.80 2.03" stroke="#9898c6" stroke-width="0.77" stroke-linecap="butt" fill="none"/><path d="M-0.84 -1.62L0.00 0.00" stroke="#e6e6f8" stroke-width="1.12" fill="none"/><path d="M4.28 -2.03L6.38 2.03" stroke="#9898c6" stroke-width="0.77" stroke-linecap="butt" fill="none"/><path d="M2.74 -1.62L3.58 0.00" stroke="#e6e6f8" stroke-width="1.12" fill="none"/><path d="M7.86 -2.03L9.96 2.03" stroke="#9898c6" stroke-width="0.77" stroke-linecap="butt" fill="none"/><path d="M6.32 -1.62L7.16 0.00" stroke="#e6e6f8" stroke-width="1.12" fill="none"/><path d="M9.90 -1.62L10.74 0.00" stroke="#e6e6f8" stroke-width="1.12" fill="none"/></g>
<g transform="translate(276.0 226.2) rotate(21.8)" stroke-linecap="round"><ellipse cx="0.00" cy="0" rx="2.17" ry="3.02" transform="rotate(30 0.00 0)" fill="#7e7eb0"/><ellipse cx="3.23" cy="0" rx="2.17" ry="3.02" transform="rotate(30 3.23 0)" fill="#7e7eb0"/><ellipse cx="6.46" cy="0" rx="2.17" ry="3.02" transform="rotate(30 6.46 0)" fill="#7e7eb0"/><ellipse cx="9.69" cy="0" rx="2.17" ry="3.02" transform="rotate(30 9.69 0)" fill="#7e7eb0"/><path d="M0 0H9.69" stroke="#7e7eb0" stroke-width="4.16" fill="none"/><ellipse cx="0.00" cy="0" rx="1.75" ry="2.60" transform="rotate(30 0.00 0)" fill="#bfbfe3"/><ellipse cx="3.23" cy="0" rx="1.75" ry="2.60" transform="rotate(30 3.23 0)" fill="#bfbfe3"/><ellipse cx="6.46" cy="0" rx="1.75" ry="2.60" transform="rotate(30 6.46 0)" fill="#bfbfe3"/><ellipse cx="9.69" cy="0" rx="1.75" ry="2.60" transform="rotate(30 9.69 0)" fill="#bfbfe3"/><path d="M0 0H9.69" stroke="#bfbfe3" stroke-width="3.32" fill="none"/><path d="M0.70 -1.95L2.80 1.95" stroke="#9898c6" stroke-width="0.77" stroke-linecap="butt" fill="none"/><path d="M-0.84 -1.56L0.00 0.00" stroke="#e6e6f8" stroke-width="1.12" fill="none"/><path d="M3.93 -1.95L6.03 1.95" stroke="#9898c6" stroke-width="0.77" stroke-linecap="butt" fill="none"/><path d="M2.39 -1.56L3.23 0.00" stroke="#e6e6f8" stroke-width="1.12" fill="none"/><path d="M7.16 -1.95L9.26 1.95" stroke="#9898c6" stroke-width="0.77" stroke-linecap="butt" fill="none"/><path d="M5.62 -1.56L6.46 0.00" stroke="#e6e6f8" stroke-width="1.12" fill="none"/><path d="M8.85 -1.56L9.69 0.00" stroke="#e6e6f8" stroke-width="1.12" fill="none"/></g>
<g transform="translate(298.6 205.0) rotate(20.8)" stroke-linecap="round"><ellipse cx="0.00" cy="0" rx="2.17" ry="3.12" transform="rotate(30 0.00 0)" fill="#7e7eb0"/><ellipse cx="3.88" cy="0" rx="2.17" ry="3.12" transform="rotate(30 3.88 0)" fill="#7e7eb0"/><ellipse cx="7.75" cy="0" rx="2.17" ry="3.12" transform="rotate(30 7.75 0)" fill="#7e7eb0"/><ellipse cx="11.63" cy="0" rx="2.17" ry="3.12" transform="rotate(30 11.63 0)" fill="#7e7eb0"/><ellipse cx="15.51" cy="0" rx="2.17" ry="3.12" transform="rotate(30 15.51 0)" fill="#7e7eb0"/><path d="M0 0H15.51" stroke="#7e7eb0" stroke-width="4.32" fill="none"/><ellipse cx="0.00" cy="0" rx="1.75" ry="2.70" transform="rotate(30 0.00 0)" fill="#bfbfe3"/><ellipse cx="3.88" cy="0" rx="1.75" ry="2.70" transform="rotate(30 3.88 0)" fill="#bfbfe3"/><ellipse cx="7.75" cy="0" rx="1.75" ry="2.70" transform="rotate(30 7.75 0)" fill="#bfbfe3"/><ellipse cx="11.63" cy="0" rx="1.75" ry="2.70" transform="rotate(30 11.63 0)" fill="#bfbfe3"/><ellipse cx="15.51" cy="0" rx="1.75" ry="2.70" transform="rotate(30 15.51 0)" fill="#bfbfe3"/><path d="M0 0H15.51" stroke="#bfbfe3" stroke-width="3.48" fill="none"/><path d="M0.70 -2.03L2.80 2.03" stroke="#9898c6" stroke-width="0.77" stroke-linecap="butt" fill="none"/><path d="M-0.84 -1.62L0.00 0.00" stroke="#e6e6f8" stroke-width="1.12" fill="none"/><path d="M4.58 -2.03L6.68 2.03" stroke="#9898c6" stroke-width="0.77" stroke-linecap="butt" fill="none"/><path d="M3.04 -1.62L3.88 0.00" stroke="#e6e6f8" stroke-width="1.12" fill="none"/><path d="M8.45 -2.03L10.55 2.03" stroke="#9898c6" stroke-width="0.77" stroke-linecap="butt" fill="none"/><path d="M6.91 -1.62L7.75 0.00" stroke="#e6e6f8" stroke-width="1.12" fill="none"/><path d="M12.33 -2.03L14.43 2.03" stroke="#9898c6" stroke-width="0.77" stroke-linecap="butt" fill="none"/><path d="M10.79 -1.62L11.63 0.00" stroke="#e6e6f8" stroke-width="1.12" fill="none"/><path d="M14.67 -1.62L15.51 0.00" stroke="#e6e6f8" stroke-width="1.12" fill="none"/></g>
<g transform="translate(301.6 214.1) rotate(10.6)" stroke-linecap="round"><ellipse cx="0.00" cy="0" rx="2.17" ry="3.02" transform="rotate(30 0.00 0)" fill="#7e7eb0"/><ellipse cx="3.26" cy="0" rx="2.17" ry="3.02" transform="rotate(30 3.26 0)" fill="#7e7eb0"/><ellipse cx="6.51" cy="0" rx="2.17" ry="3.02" transform="rotate(30 6.51 0)" fill="#7e7eb0"/><ellipse cx="9.77" cy="0" rx="2.17" ry="3.02" transform="rotate(30 9.77 0)" fill="#7e7eb0"/><ellipse cx="13.02" cy="0" rx="2.17" ry="3.02" transform="rotate(30 13.02 0)" fill="#7e7eb0"/><ellipse cx="16.28" cy="0" rx="2.17" ry="3.02" transform="rotate(30 16.28 0)" fill="#7e7eb0"/><path d="M0 0H16.28" stroke="#7e7eb0" stroke-width="4.16" fill="none"/><ellipse cx="0.00" cy="0" rx="1.75" ry="2.60" transform="rotate(30 0.00 0)" fill="#bfbfe3"/><ellipse cx="3.26" cy="0" rx="1.75" ry="2.60" transform="rotate(30 3.26 0)" fill="#bfbfe3"/><ellipse cx="6.51" cy="0" rx="1.75" ry="2.60" transform="rotate(30 6.51 0)" fill="#bfbfe3"/><ellipse cx="9.77" cy="0" rx="1.75" ry="2.60" transform="rotate(30 9.77 0)" fill="#bfbfe3"/><ellipse cx="13.02" cy="0" rx="1.75" ry="2.60" transform="rotate(30 13.02 0)" fill="#bfbfe3"/><ellipse cx="16.28" cy="0" rx="1.75" ry="2.60" transform="rotate(30 16.28 0)" fill="#bfbfe3"/><path d="M0 0H16.28" stroke="#bfbfe3" stroke-width="3.32" fill="none"/><path d="M0.70 -1.95L2.80 1.95" stroke="#9898c6" stroke-width="0.77" stroke-linecap="butt" fill="none"/><path d="M-0.84 -1.56L0.00 0.00" stroke="#e6e6f8" stroke-width="1.12" fill="none"/><path d="M3.96 -1.95L6.06 1.95" stroke="#9898c6" stroke-width="0.77" stroke-linecap="butt" fill="none"/><path d="M2.42 -1.56L3.26 0.00" stroke="#e6e6f8" stroke-width="1.12" fill="none"/><path d="M7.21 -1.95L9.31 1.95" stroke="#9898c6" stroke-width="0.77" stroke-linecap="butt" fill="none"/><path d="M5.67 -1.56L6.51 0.00" stroke="#e6e6f8" stroke-width="1.12" fill="none"/><path d="M10.47 -1.95L12.57 1.95" stroke="#9898c6" stroke-width="0.77" stroke-linecap="butt" fill="none"/><path d="M8.93 -1.56L9.77 0.00" stroke="#e6e6f8" stroke-width="1.12" fill="none"/><path d="M13.72 -1.95L15.82 1.95" stroke="#9898c6" stroke-width="0.77" stroke-linecap="butt" fill="none"/><path d="M12.18 -1.56L13.02 0.00" stroke="#e6e6f8" stroke-width="1.12" fill="none"/><path d="M15.44 -1.56L16.28 0.00" stroke="#e6e6f8" stroke-width="1.12" fill="none"/></g>
<g transform="translate(295.3 192.6) rotate(68.5)" stroke-linecap="round"><ellipse cx="0.00" cy="0" rx="2.17" ry="2.92" transform="rotate(30 0.00 0)" fill="#7e7eb0"/><ellipse cx="3.06" cy="0" rx="2.17" ry="2.92" transform="rotate(30 3.06 0)" fill="#7e7eb0"/><ellipse cx="6.13" cy="0" rx="2.17" ry="2.92" transform="rotate(30 6.13 0)" fill="#7e7eb0"/><ellipse cx="9.19" cy="0" rx="2.17" ry="2.92" transform="rotate(30 9.19 0)" fill="#7e7eb0"/><ellipse cx="12.26" cy="0" rx="2.17" ry="2.92" transform="rotate(30 12.26 0)" fill="#7e7eb0"/><path d="M0 0H12.26" stroke="#7e7eb0" stroke-width="4.00" fill="none"/><ellipse cx="0.00" cy="0" rx="1.75" ry="2.50" transform="rotate(30 0.00 0)" fill="#bfbfe3"/><ellipse cx="3.06" cy="0" rx="1.75" ry="2.50" transform="rotate(30 3.06 0)" fill="#bfbfe3"/><ellipse cx="6.13" cy="0" rx="1.75" ry="2.50" transform="rotate(30 6.13 0)" fill="#bfbfe3"/><ellipse cx="9.19" cy="0" rx="1.75" ry="2.50" transform="rotate(30 9.19 0)" fill="#bfbfe3"/><ellipse cx="12.26" cy="0" rx="1.75" ry="2.50" transform="rotate(30 12.26 0)" fill="#bfbfe3"/><path d="M0 0H12.26" stroke="#bfbfe3" stroke-width="3.16" fill="none"/><path d="M0.70 -1.88L2.80 1.88" stroke="#9898c6" stroke-width="0.77" stroke-linecap="butt" fill="none"/><path d="M-0.84 -1.50L0.00 0.00" stroke="#e6e6f8" stroke-width="1.12" fill="none"/><path d="M3.76 -1.88L5.86 1.88" stroke="#9898c6" stroke-width="0.77" stroke-linecap="butt" fill="none"/><path d="M2.22 -1.50L3.06 0.00" stroke="#e6e6f8" stroke-width="1.12" fill="none"/><path d="M6.83 -1.88L8.93 1.88" stroke="#9898c6" stroke-width="0.77" stroke-linecap="butt" fill="none"/><path d="M5.29 -1.50L6.13 0.00" stroke="#e6e6f8" stroke-width="1.12" fill="none"/><path d="M9.89 -1.88L11.99 1.88" stroke="#9898c6" stroke-width="0.77" stroke-linecap="butt" fill="none"/><path d="M8.35 -1.50L9.19 0.00" stroke="#e6e6f8" stroke-width="1.12" fill="none"/><path d="M11.42 -1.50L12.26 0.00" stroke="#e6e6f8" stroke-width="1.12" fill="none"/></g>
<g transform="translate(307.1 220.1) rotate(44.1)" stroke-linecap="round"><ellipse cx="0.00" cy="0" rx="2.17" ry="2.82" transform="rotate(30 0.00 0)" fill="#7e7eb0"/><ellipse cx="2.92" cy="0" rx="2.17" ry="2.82" transform="rotate(30 2.92 0)" fill="#7e7eb0"/><ellipse cx="5.85" cy="0" rx="2.17" ry="2.82" transform="rotate(30 5.85 0)" fill="#7e7eb0"/><ellipse cx="8.77" cy="0" rx="2.17" ry="2.82" transform="rotate(30 8.77 0)" fill="#7e7eb0"/><path d="M0 0H8.77" stroke="#7e7eb0" stroke-width="3.84" fill="none"/><ellipse cx="0.00" cy="0" rx="1.75" ry="2.40" transform="rotate(30 0.00 0)" fill="#bfbfe3"/><ellipse cx="2.92" cy="0" rx="1.75" ry="2.40" transform="rotate(30 2.92 0)" fill="#bfbfe3"/><ellipse cx="5.85" cy="0" rx="1.75" ry="2.40" transform="rotate(30 5.85 0)" fill="#bfbfe3"/><ellipse cx="8.77" cy="0" rx="1.75" ry="2.40" transform="rotate(30 8.77 0)" fill="#bfbfe3"/><path d="M0 0H8.77" stroke="#bfbfe3" stroke-width="3.00" fill="none"/><path d="M0.70 -1.80L2.80 1.80" stroke="#9898c6" stroke-width="0.77" stroke-linecap="butt" fill="none"/><path d="M-0.84 -1.44L0.00 0.00" stroke="#e6e6f8" stroke-width="1.12" fill="none"/><path d="M3.62 -1.80L5.72 1.80" stroke="#9898c6" stroke-width="0.77" stroke-linecap="butt" fill="none"/><path d="M2.08 -1.44L2.92 0.00" stroke="#e6e6f8" stroke-width="1.12" fill="none"/><path d="M6.55 -1.80L8.65 1.80" stroke="#9898c6" stroke-width="0.77" stroke-linecap="butt" fill="none"/><path d="M5.01 -1.44L5.85 0.00" stroke="#e6e6f8" stroke-width="1.12" fill="none"/><path d="M7.93 -1.44L8.77 0.00" stroke="#e6e6f8" stroke-width="1.12" fill="none"/></g>
<g transform="translate(263.9 192.6) rotate(-47.4)" stroke-linecap="round"><ellipse cx="0.00" cy="0" rx="2.17" ry="2.92" transform="rotate(30 0.00 0)" fill="#7e7eb0"/><ellipse cx="3.40" cy="0" rx="2.17" ry="2.92" transform="rotate(30 3.40 0)" fill="#7e7eb0"/><ellipse cx="6.79" cy="0" rx="2.17" ry="2.92" transform="rotate(30 6.79 0)" fill="#7e7eb0"/><ellipse cx="10.19" cy="0" rx="2.17" ry="2.92" transform="rotate(30 10.19 0)" fill="#7e7eb0"/><path d="M0 0H10.19" stroke="#7e7eb0" stroke-width="4.00" fill="none"/><ellipse cx="0.00" cy="0" rx="1.75" ry="2.50" transform="rotate(30 0.00 0)" fill="#bfbfe3"/><ellipse cx="3.40" cy="0" rx="1.75" ry="2.50" transform="rotate(30 3.40 0)" fill="#bfbfe3"/><ellipse cx="6.79" cy="0" rx="1.75" ry="2.50" transform="rotate(30 6.79 0)" fill="#bfbfe3"/><ellipse cx="10.19" cy="0" rx="1.75" ry="2.50" transform="rotate(30 10.19 0)" fill="#bfbfe3"/><path d="M0 0H10.19" stroke="#bfbfe3" stroke-width="3.16" fill="none"/><path d="M0.70 -1.88L2.80 1.88" stroke="#9898c6" stroke-width="0.77" stroke-linecap="butt" fill="none"/><path d="M-0.84 -1.50L0.00 0.00" stroke="#e6e6f8" stroke-width="1.12" fill="none"/><path d="M4.10 -1.88L6.20 1.88" stroke="#9898c6" stroke-width="0.77" stroke-linecap="butt" fill="none"/><path d="M2.56 -1.50L3.40 0.00" stroke="#e6e6f8" stroke-width="1.12" fill="none"/><path d="M7.49 -1.88L9.59 1.88" stroke="#9898c6" stroke-width="0.77" stroke-linecap="butt" fill="none"/><path d="M5.95 -1.50L6.79 0.00" stroke="#e6e6f8" stroke-width="1.12" fill="none"/><path d="M9.35 -1.50L10.19 0.00" stroke="#e6e6f8" stroke-width="1.12" fill="none"/></g>
<g transform="translate(276.4 183.3) rotate(-28.8)" stroke-linecap="round"><ellipse cx="0.00" cy="0" rx="2.17" ry="2.82" transform="rotate(30 0.00 0)" fill="#7e7eb0"/><ellipse cx="4.05" cy="0" rx="2.17" ry="2.82" transform="rotate(30 4.05 0)" fill="#7e7eb0"/><ellipse cx="8.10" cy="0" rx="2.17" ry="2.82" transform="rotate(30 8.10 0)" fill="#7e7eb0"/><path d="M0 0H8.10" stroke="#7e7eb0" stroke-width="3.84" fill="none"/><ellipse cx="0.00" cy="0" rx="1.75" ry="2.40" transform="rotate(30 0.00 0)" fill="#bfbfe3"/><ellipse cx="4.05" cy="0" rx="1.75" ry="2.40" transform="rotate(30 4.05 0)" fill="#bfbfe3"/><ellipse cx="8.10" cy="0" rx="1.75" ry="2.40" transform="rotate(30 8.10 0)" fill="#bfbfe3"/><path d="M0 0H8.10" stroke="#bfbfe3" stroke-width="3.00" fill="none"/><path d="M0.70 -1.80L2.80 1.80" stroke="#9898c6" stroke-width="0.77" stroke-linecap="butt" fill="none"/><path d="M-0.84 -1.44L0.00 0.00" stroke="#e6e6f8" stroke-width="1.12" fill="none"/><path d="M4.75 -1.80L6.85 1.80" stroke="#9898c6" stroke-width="0.77" stroke-linecap="butt" fill="none"/><path d="M3.21 -1.44L4.05 0.00" stroke="#e6e6f8" stroke-width="1.12" fill="none"/><path d="M7.26 -1.44L8.10 0.00" stroke="#e6e6f8" stroke-width="1.12" fill="none"/></g>
<g transform="translate(285.0 219.1) rotate(61.2)" stroke-linecap="round"><ellipse cx="0.00" cy="0" rx="2.17" ry="2.72" transform="rotate(30 0.00 0)" fill="#7e7eb0"/><ellipse cx="4.05" cy="0" rx="2.17" ry="2.72" transform="rotate(30 4.05 0)" fill="#7e7eb0"/><ellipse cx="8.10" cy="0" rx="2.17" ry="2.72" transform="rotate(30 8.10 0)" fill="#7e7eb0"/><path d="M0 0H8.10" stroke="#7e7eb0" stroke-width="3.68" fill="none"/><ellipse cx="0.00" cy="0" rx="1.75" ry="2.30" transform="rotate(30 0.00 0)" fill="#bfbfe3"/><ellipse cx="4.05" cy="0" rx="1.75" ry="2.30" transform="rotate(30 4.05 0)" fill="#bfbfe3"/><ellipse cx="8.10" cy="0" rx="1.75" ry="2.30" transform="rotate(30 8.10 0)" fill="#bfbfe3"/><path d="M0 0H8.10" stroke="#bfbfe3" stroke-width="2.84" fill="none"/><path d="M0.70 -1.72L2.80 1.72" stroke="#9898c6" stroke-width="0.77" stroke-linecap="butt" fill="none"/><path d="M-0.84 -1.38L0.00 0.00" stroke="#e6e6f8" stroke-width="1.12" fill="none"/><path d="M4.75 -1.72L6.85 1.72" stroke="#9898c6" stroke-width="0.77" stroke-linecap="butt" fill="none"/><path d="M3.21 -1.38L4.05 0.00" stroke="#e6e6f8" stroke-width="1.12" fill="none"/><path d="M7.26 -1.38L8.10 0.00" stroke="#e6e6f8" stroke-width="1.12" fill="none"/></g>
<g transform="translate(302.1 196.9) rotate(47.7)" stroke-linecap="round"><ellipse cx="0.00" cy="0" rx="2.17" ry="2.62" transform="rotate(30 0.00 0)" fill="#7e7eb0"/><ellipse cx="2.97" cy="0" rx="2.17" ry="2.62" transform="rotate(30 2.97 0)" fill="#7e7eb0"/><ellipse cx="5.95" cy="0" rx="2.17" ry="2.62" transform="rotate(30 5.95 0)" fill="#7e7eb0"/><ellipse cx="8.92" cy="0" rx="2.17" ry="2.62" transform="rotate(30 8.92 0)" fill="#7e7eb0"/><path d="M0 0H8.92" stroke="#7e7eb0" stroke-width="3.52" fill="none"/><ellipse cx="0.00" cy="0" rx="1.75" ry="2.20" transform="rotate(30 0.00 0)" fill="#bfbfe3"/><ellipse cx="2.97" cy="0" rx="1.75" ry="2.20" transform="rotate(30 2.97 0)" fill="#bfbfe3"/><ellipse cx="5.95" cy="0" rx="1.75" ry="2.20" transform="rotate(30 5.95 0)" fill="#bfbfe3"/><ellipse cx="8.92" cy="0" rx="1.75" ry="2.20" transform="rotate(30 8.92 0)" fill="#bfbfe3"/><path d="M0 0H8.92" stroke="#bfbfe3" stroke-width="2.68" fill="none"/><path d="M0.70 -1.65L2.80 1.65" stroke="#9898c6" stroke-width="0.77" stroke-linecap="butt" fill="none"/><path d="M-0.84 -1.32L0.00 0.00" stroke="#e6e6f8" stroke-width="1.12" fill="none"/><path d="M3.67 -1.65L5.77 1.65" stroke="#9898c6" stroke-width="0.77" stroke-linecap="butt" fill="none"/><path d="M2.13 -1.32L2.97 0.00" stroke="#e6e6f8" stroke-width="1.12" fill="none"/><path d="M6.65 -1.65L8.75 1.65" stroke="#9898c6" stroke-width="0.77" stroke-linecap="butt" fill="none"/><path d="M5.11 -1.32L5.95 0.00" stroke="#e6e6f8" stroke-width="1.12" fill="none"/><path d="M8.08 -1.32L8.92 0.00" stroke="#e6e6f8" stroke-width="1.12" fill="none"/></g>
<g transform="translate(289.5 234.6) rotate(19.8)" stroke-linecap="round"><ellipse cx="0.00" cy="0" rx="2.17" ry="3.52" transform="rotate(30 0.00 0)" fill="#7e7eb0"/><ellipse cx="3.54" cy="0" rx="2.17" ry="3.52" transform="rotate(30 3.54 0)" fill="#7e7eb0"/><ellipse cx="7.09" cy="0" rx="2.17" ry="3.52" transform="rotate(30 7.09 0)" fill="#7e7eb0"/><ellipse cx="10.63" cy="0" rx="2.17" ry="3.52" transform="rotate(30 10.63 0)" fill="#7e7eb0"/><path d="M0 0H10.63" stroke="#7e7eb0" stroke-width="4.96" fill="none"/><ellipse cx="0.00" cy="0" rx="1.75" ry="3.10" transform="rotate(30 0.00 0)" fill="#bfbfe3"/><ellipse cx="3.54" cy="0" rx="1.75" ry="3.10" transform="rotate(30 3.54 0)" fill="#bfbfe3"/><ellipse cx="7.09" cy="0" rx="1.75" ry="3.10" transform="rotate(30 7.09 0)" fill="#bfbfe3"/><ellipse cx="10.63" cy="0" rx="1.75" ry="3.10" transform="rotate(30 10.63 0)" fill="#bfbfe3"/><path d="M0 0H10.63" stroke="#bfbfe3" stroke-width="4.12" fill="none"/><path d="M0.70 -2.33L2.80 2.33" stroke="#9898c6" stroke-width="0.77" stroke-linecap="butt" fill="none"/><path d="M-0.84 -1.86L0.00 0.00" stroke="#e6e6f8" stroke-width="1.12" fill="none"/><path d="M4.24 -2.33L6.34 2.33" stroke="#9898c6" stroke-width="0.77" stroke-linecap="butt" fill="none"/><path d="M2.70 -1.86L3.54 0.00" stroke="#e6e6f8" stroke-width="1.12" fill="none"/><path d="M7.79 -2.33L9.89 2.33" stroke="#9898c6" stroke-width="0.77" stroke-linecap="butt" fill="none"/><path d="M6.25 -1.86L7.09 0.00" stroke="#e6e6f8" stroke-width="1.12" fill="none"/><path d="M9.79 -1.86L10.63 0.00" stroke="#e6e6f8" stroke-width="1.12" fill="none"/></g>
<circle cx="274.2" cy="177.6" r="3.0" fill="none" stroke="#8585b4" stroke-width="2.6"/><circle cx="274.2" cy="177.6" r="3.0" fill="none" stroke="#c3c3e6" stroke-width="1.8"/>
<circle cx="294.5" cy="219.7" r="2.7" fill="#d98a1e" stroke="#a86410" stroke-width="0.4"/>
<circle cx="293.7" cy="218.9" r="1" fill="#f2b95a"/>
<g transform="translate(341.6 240.2) rotate(127.6)" stroke-linecap="round"><ellipse cx="0.00" cy="0" rx="2.17" ry="3.32" transform="rotate(30 0.00 0)" fill="#7878ac"/><ellipse cx="4.04" cy="0" rx="2.17" ry="3.32" transform="rotate(30 4.04 0)" fill="#7878ac"/><ellipse cx="8.08" cy="0" rx="2.17" ry="3.32" transform="rotate(30 8.08 0)" fill="#7878ac"/><ellipse cx="12.12" cy="0" rx="2.17" ry="3.32" transform="rotate(30 12.12 0)" fill="#7878ac"/><path d="M0 0H12.12" stroke="#7878ac" stroke-width="4.64" fill="none"/><ellipse cx="0.00" cy="0" rx="1.75" ry="2.90" transform="rotate(30 0.00 0)" fill="#b9b9df"/><ellipse cx="4.04" cy="0" rx="1.75" ry="2.90" transform="rotate(30 4.04 0)" fill="#b9b9df"/><ellipse cx="8.08" cy="0" rx="1.75" ry="2.90" transform="rotate(30 8.08 0)" fill="#b9b9df"/><ellipse cx="12.12" cy="0" rx="1.75" ry="2.90" transform="rotate(30 12.12 0)" fill="#b9b9df"/><path d="M0 0H12.12" stroke="#b9b9df" stroke-width="3.80" fill="none"/><path d="M0.70 -2.18L2.80 2.18" stroke="#9090c0" stroke-width="0.77" stroke-linecap="butt" fill="none"/><path d="M-0.84 -1.74L0.00 0.00" stroke="#e6e6f8" stroke-width="1.12" fill="none"/><path d="M4.74 -2.18L6.84 2.18" stroke="#9090c0" stroke-width="0.77" stroke-linecap="butt" fill="none"/><path d="M3.20 -1.74L4.04 0.00" stroke="#e6e6f8" stroke-width="1.12" fill="none"/><path d="M8.78 -2.18L10.88 2.18" stroke="#9090c0" stroke-width="0.77" stroke-linecap="butt" fill="none"/><path d="M7.24 -1.74L8.08 0.00" stroke="#e6e6f8" stroke-width="1.12" fill="none"/><path d="M11.28 -1.74L12.12 0.00" stroke="#e6e6f8" stroke-width="1.12" fill="none"/></g>
<g transform="translate(333.6 250.4) rotate(123.7)" stroke-linecap="round"><ellipse cx="0.00" cy="0" rx="2.17" ry="3.62" transform="rotate(30 0.00 0)" fill="#7878ac"/><ellipse cx="3.47" cy="0" rx="2.17" ry="3.62" transform="rotate(30 3.47 0)" fill="#7878ac"/><ellipse cx="6.95" cy="0" rx="2.17" ry="3.62" transform="rotate(30 6.95 0)" fill="#7878ac"/><ellipse cx="10.42" cy="0" rx="2.17" ry="3.62" transform="rotate(30 10.42 0)" fill="#7878ac"/><ellipse cx="13.90" cy="0" rx="2.17" ry="3.62" transform="rotate(30 13.90 0)" fill="#7878ac"/><ellipse cx="17.37" cy="0" rx="2.17" ry="3.62" transform="rotate(30 17.37 0)" fill="#7878ac"/><ellipse cx="20.85" cy="0" rx="2.17" ry="3.62" transform="rotate(30 20.85 0)" fill="#7878ac"/><ellipse cx="24.32" cy="0" rx="2.17" ry="3.62" transform="rotate(30 24.32 0)" fill="#7878ac"/><ellipse cx="27.80" cy="0" rx="2.17" ry="3.62" transform="rotate(30 27.80 0)" fill="#7878ac"/><ellipse cx="31.27" cy="0" rx="2.17" ry="3.62" transform="rotate(30 31.27 0)" fill="#7878ac"/><ellipse cx="34.74" cy="0" rx="2.17" ry="3.62" transform="rotate(30 34.74 0)" fill="#7878ac"/><ellipse cx="38.22" cy="0" rx="2.17" ry="3.62" transform="rotate(30 38.22 0)" fill="#7878ac"/><path d="M0 0H38.22" stroke="#7878ac" stroke-width="5.12" fill="none"/><ellipse cx="0.00" cy="0" rx="1.75" ry="3.20" transform="rotate(30 0.00 0)" fill="#b9b9df"/><ellipse cx="3.47" cy="0" rx="1.75" ry="3.20" transform="rotate(30 3.47 0)" fill="#b9b9df"/><ellipse cx="6.95" cy="0" rx="1.75" ry="3.20" transform="rotate(30 6.95 0)" fill="#b9b9df"/><ellipse cx="10.42" cy="0" rx="1.75" ry="3.20" transform="rotate(30 10.42 0)" fill="#b9b9df"/><ellipse cx="13.90" cy="0" rx="1.75" ry="3.20" transform="rotate(30 13.90 0)" fill="#b9b9df"/><ellipse cx="17.37" cy="0" rx="1.75" ry="3.20" transform="rotate(30 17.37 0)" fill="#b9b9df"/><ellipse cx="20.85" cy="0" rx="1.75" ry="3.20" transform="rotate(30 20.85 0)" fill="#b9b9df"/><ellipse cx="24.32" cy="0" rx="1.75" ry="3.20" transform="rotate(30 24.32 0)" fill="#b9b9df"/><ellipse cx="27.80" cy="0" rx="1.75" ry="3.20" transform="rotate(30 27.80 0)" fill="#b9b9df"/><ellipse cx="31.27" cy="0" rx="1.75" ry="3.20" transform="rotate(30 31.27 0)" fill="#b9b9df"/><ellipse cx="34.74" cy="0" rx="1.75" ry="3.20" transform="rotate(30 34.74 0)" fill="#b9b9df"/><ellipse cx="38.22" cy="0" rx="1.75" ry="3.20" transform="rotate(30 38.22 0)" fill="#b9b9df"/><path d="M0 0H38.22" stroke="#b9b9df" stroke-width="4.28" fill="none"/><path d="M0.70 -2.40L2.80 2.40" stroke="#9090c0" stroke-width="0.77" stroke-linecap="butt" fill="none"/><path d="M-0.84 -1.92L0.00 0.00" stroke="#e6e6f8" stroke-width="1.12" fill="none"/><path d="M4.17 -2.40L6.27 2.40" stroke="#9090c0" stroke-width="0.77" stroke-linecap="butt" fill="none"/><path d="M2.63 -1.92L3.47 0.00" stroke="#e6e6f8" stroke-width="1.12" fill="none"/><path d="M7.65 -2.40L9.75 2.40" stroke="#9090c0" stroke-width="0.77" stroke-linecap="butt" fill="none"/><path d="M6.11 -1.92L6.95 0.00" stroke="#e6e6f8" stroke-width="1.12" fill="none"/><path d="M11.12 -2.40L13.22 2.40" stroke="#9090c0" stroke-width="0.77" stroke-linecap="butt" fill="none"/><path d="M9.58 -1.92L10.42 0.00" stroke="#e6e6f8" stroke-width="1.12" fill="none"/><path d="M14.60 -2.40L16.70 2.40" stroke="#9090c0" stroke-width="0.77" stroke-linecap="butt" fill="none"/><path d="M13.06 -1.92L13.90 0.00" stroke="#e6e6f8" stroke-width="1.12" fill="none"/><path d="M18.07 -2.40L20.17 2.40" stroke="#9090c0" stroke-width="0.77" stroke-linecap="butt" fill="none"/><path d="M16.53 -1.92L17.37 0.00" stroke="#e6e6f8" stroke-width="1.12" fill="none"/><path d="M21.55 -2.40L23.65 2.40" stroke="#9090c0" stroke-width="0.77" stroke-linecap="butt" fill="none"/><path d="M20.01 -1.92L20.85 0.00" stroke="#e6e6f8" stroke-width="1.12" fill="none"/><path d="M25.02 -2.40L27.12 2.40" stroke="#9090c0" stroke-width="0.77" stroke-linecap="butt" fill="none"/><path d="M23.48 -1.92L24.32 0.00" stroke="#e6e6f8" stroke-width="1.12" fill="none"/><path d="M28.50 -2.40L30.60 2.40" stroke="#9090c0" stroke-width="0.77" stroke-linecap="butt" fill="none"/><path d="M26.96 -1.92L27.80 0.00" stroke="#e6e6f8" stroke-width="1.12" fill="none"/><path d="M31.97 -2.40L34.07 2.40" stroke="#9090c0" stroke-width="0.77" stroke-linecap="butt" fill="none"/><path d="M30.43 -1.92L31.27 0.00" stroke="#e6e6f8" stroke-width="1.12" fill="none"/><path d="M35.44 -2.40L37.54 2.40" stroke="#9090c0" stroke-width="0.77" stroke-linecap="butt" fill="none"/><path d="M33.90 -1.92L34.74 0.00" stroke="#e6e6f8" stroke-width="1.12" fill="none"/><path d="M37.38 -1.92L38.22 0.00" stroke="#e6e6f8" stroke-width="1.12" fill="none"/></g>
<g transform="translate(311.8 283.0) rotate(114.1)" stroke-linecap="round"><ellipse cx="0.00" cy="0" rx="2.17" ry="3.32" transform="rotate(30 0.00 0)" fill="#7878ac"/><ellipse cx="3.37" cy="0" rx="2.17" ry="3.32" transform="rotate(30 3.37 0)" fill="#7878ac"/><ellipse cx="6.74" cy="0" rx="2.17" ry="3.32" transform="rotate(30 6.74 0)" fill="#7878ac"/><ellipse cx="10.11" cy="0" rx="2.17" ry="3.32" transform="rotate(30 10.11 0)" fill="#7878ac"/><ellipse cx="13.47" cy="0" rx="2.17" ry="3.32" transform="rotate(30 13.47 0)" fill="#7878ac"/><path d="M0 0H13.47" stroke="#7878ac" stroke-width="4.64" fill="none"/><ellipse cx="0.00" cy="0" rx="1.75" ry="2.90" transform="rotate(30 0.00 0)" fill="#b9b9df"/><ellipse cx="3.37" cy="0" rx="1.75" ry="2.90" transform="rotate(30 3.37 0)" fill="#b9b9df"/><ellipse cx="6.74" cy="0" rx="1.75" ry="2.90" transform="rotate(30 6.74 0)" fill="#b9b9df"/><ellipse cx="10.11" cy="0" rx="1.75" ry="2.90" transform="rotate(30 10.11 0)" fill="#b9b9df"/><ellipse cx="13.47" cy="0" rx="1.75" ry="2.90" transform="rotate(30 13.47 0)" fill="#b9b9df"/><path d="M0 0H13.47" stroke="#b9b9df" stroke-width="3.80" fill="none"/><path d="M0.70 -2.18L2.80 2.18" stroke="#9090c0" stroke-width="0.77" stroke-linecap="butt" fill="none"/><path d="M-0.84 -1.74L0.00 0.00" stroke="#e6e6f8" stroke-width="1.12" fill="none"/><path d="M4.07 -2.18L6.17 2.18" stroke="#9090c0" stroke-width="0.77" stroke-linecap="butt" fill="none"/><path d="M2.53 -1.74L3.37 0.00" stroke="#e6e6f8" stroke-width="1.12" fill="none"/><path d="M7.44 -2.18L9.54 2.18" stroke="#9090c0" stroke-width="0.77" stroke-linecap="butt" fill="none"/><path d="M5.90 -1.74L6.74 0.00" stroke="#e6e6f8" stroke-width="1.12" fill="none"/><path d="M10.81 -2.18L12.91 2.18" stroke="#9090c0" stroke-width="0.77" stroke-linecap="butt" fill="none"/><path d="M9.27 -1.74L10.11 0.00" stroke="#e6e6f8" stroke-width="1.12" fill="none"/><path d="M12.63 -1.74L13.47 0.00" stroke="#e6e6f8" stroke-width="1.12" fill="none"/></g>
<g transform="translate(326.3 252.6) rotate(129.1)" stroke-linecap="round"><ellipse cx="0.00" cy="0" rx="2.17" ry="3.52" transform="rotate(30 0.00 0)" fill="#7878ac"/><ellipse cx="3.45" cy="0" rx="2.17" ry="3.52" transform="rotate(30 3.45 0)" fill="#7878ac"/><ellipse cx="6.90" cy="0" rx="2.17" ry="3.52" transform="rotate(30 6.90 0)" fill="#7878ac"/><ellipse cx="10.34" cy="0" rx="2.17" ry="3.52" transform="rotate(30 10.34 0)" fill="#7878ac"/><ellipse cx="13.79" cy="0" rx="2.17" ry="3.52" transform="rotate(30 13.79 0)" fill="#7878ac"/><ellipse cx="17.24" cy="0" rx="2.17" ry="3.52" transform="rotate(30 17.24 0)" fill="#7878ac"/><ellipse cx="20.69" cy="0" rx="2.17" ry="3.52" transform="rotate(30 20.69 0)" fill="#7878ac"/><ellipse cx="24.13" cy="0" rx="2.17" ry="3.52" transform="rotate(30 24.13 0)" fill="#7878ac"/><ellipse cx="27.58" cy="0" rx="2.17" ry="3.52" transform="rotate(30 27.58 0)" fill="#7878ac"/><path d="M0 0H27.58" stroke="#7878ac" stroke-width="4.96" fill="none"/><ellipse cx="0.00" cy="0" rx="1.75" ry="3.10" transform="rotate(30 0.00 0)" fill="#b9b9df"/><ellipse cx="3.45" cy="0" rx="1.75" ry="3.10" transform="rotate(30 3.45 0)" fill="#b9b9df"/><ellipse cx="6.90" cy="0" rx="1.75" ry="3.10" transform="rotate(30 6.90 0)" fill="#b9b9df"/><ellipse cx="10.34" cy="0" rx="1.75" ry="3.10" transform="rotate(30 10.34 0)" fill="#b9b9df"/><ellipse cx="13.79" cy="0" rx="1.75" ry="3.10" transform="rotate(30 13.79 0)" fill="#b9b9df"/><ellipse cx="17.24" cy="0" rx="1.75" ry="3.10" transform="rotate(30 17.24 0)" fill="#b9b9df"/><ellipse cx="20.69" cy="0" rx="1.75" ry="3.10" transform="rotate(30 20.69 0)" fill="#b9b9df"/><ellipse cx="24.13" cy="0" rx="1.75" ry="3.10" transform="rotate(30 24.13 0)" fill="#b9b9df"/><ellipse cx="27.58" cy="0" rx="1.75" ry="3.10" transform="rotate(30 27.58 0)" fill="#b9b9df"/><path d="M0 0H27.58" stroke="#b9b9df" stroke-width="4.12" fill="none"/><path d="M0.70 -2.33L2.80 2.33" stroke="#9090c0" stroke-width="0.77" stroke-linecap="butt" fill="none"/><path d="M-0.84 -1.86L0.00 0.00" stroke="#e6e6f8" stroke-width="1.12" fill="none"/><path d="M4.15 -2.33L6.25 2.33" stroke="#9090c0" stroke-width="0.77" stroke-linecap="butt" fill="none"/><path d="M2.61 -1.86L3.45 0.00" stroke="#e6e6f8" stroke-width="1.12" fill="none"/><path d="M7.60 -2.33L9.70 2.33" stroke="#9090c0" stroke-width="0.77" stroke-linecap="butt" fill="none"/><path d="M6.06 -1.86L6.90 0.00" stroke="#e6e6f8" stroke-width="1.12" fill="none"/><path d="M11.04 -2.33L13.14 2.33" stroke="#9090c0" stroke-width="0.77" stroke-linecap="butt" fill="none"/><path d="M9.50 -1.86L10.34 0.00" stroke="#e6e6f8" stroke-width="1.12" fill="none"/><path d="M14.49 -2.33L16.59 2.33" stroke="#9090c0" stroke-width="0.77" stroke-linecap="butt" fill="none"/><path d="M12.95 -1.86L13.79 0.00" stroke="#e6e6f8" stroke-width="1.12" fill="none"/><path d="M17.94 -2.33L20.04 2.33" stroke="#9090c0" stroke-width="0.77" stroke-linecap="butt" fill="none"/><path d="M16.40 -1.86L17.24 0.00" stroke="#e6e6f8" stroke-width="1.12" fill="none"/><path d="M21.39 -2.33L23.49 2.33" stroke="#9090c0" stroke-width="0.77" stroke-linecap="butt" fill="none"/><path d="M19.85 -1.86L20.69 0.00" stroke="#e6e6f8" stroke-width="1.12" fill="none"/><path d="M24.83 -2.33L26.93 2.33" stroke="#9090c0" stroke-width="0.77" stroke-linecap="butt" fill="none"/><path d="M23.29 -1.86L24.13 0.00" stroke="#e6e6f8" stroke-width="1.12" fill="none"/><path d="M26.74 -1.86L27.58 0.00" stroke="#e6e6f8" stroke-width="1.12" fill="none"/></g>
<g transform="translate(314.7 254.0) rotate(133.3)" stroke-linecap="round"><ellipse cx="0.00" cy="0" rx="2.17" ry="3.32" transform="rotate(30 0.00 0)" fill="#7878ac"/><ellipse cx="3.85" cy="0" rx="2.17" ry="3.32" transform="rotate(30 3.85 0)" fill="#7878ac"/><ellipse cx="7.70" cy="0" rx="2.17" ry="3.32" transform="rotate(30 7.70 0)" fill="#7878ac"/><ellipse cx="11.54" cy="0" rx="2.17" ry="3.32" transform="rotate(30 11.54 0)" fill="#7878ac"/><ellipse cx="15.39" cy="0" rx="2.17" ry="3.32" transform="rotate(30 15.39 0)" fill="#7878ac"/><ellipse cx="19.24" cy="0" rx="2.17" ry="3.32" transform="rotate(30 19.24 0)" fill="#7878ac"/><path d="M0 0H19.24" stroke="#7878ac" stroke-width="4.64" fill="none"/><ellipse cx="0.00" cy="0" rx="1.75" ry="2.90" transform="rotate(30 0.00 0)" fill="#b9b9df"/><ellipse cx="3.85" cy="0" rx="1.75" ry="2.90" transform="rotate(30 3.85 0)" fill="#b9b9df"/><ellipse cx="7.70" cy="0" rx="1.75" ry="2.90" transform="rotate(30 7.70 0)" fill="#b9b9df"/><ellipse cx="11.54" cy="0" rx="1.75" ry="2.90" transform="rotate(30 11.54 0)" fill="#b9b9df"/><ellipse cx="15.39" cy="0" rx="1.75" ry="2.90" transform="rotate(30 15.39 0)" fill="#b9b9df"/><ellipse cx="19.24" cy="0" rx="1.75" ry="2.90" transform="rotate(30 19.24 0)" fill="#b9b9df"/><path d="M0 0H19.24" stroke="#b9b9df" stroke-width="3.80" fill="none"/><path d="M0.70 -2.18L2.80 2.18" stroke="#9090c0" stroke-width="0.77" stroke-linecap="butt" fill="none"/><path d="M-0.84 -1.74L0.00 0.00" stroke="#e6e6f8" stroke-width="1.12" fill="none"/><path d="M4.55 -2.18L6.65 2.18" stroke="#9090c0" stroke-width="0.77" stroke-linecap="butt" fill="none"/><path d="M3.01 -1.74L3.85 0.00" stroke="#e6e6f8" stroke-width="1.12" fill="none"/><path d="M8.40 -2.18L10.50 2.18" stroke="#9090c0" stroke-width="0.77" stroke-linecap="butt" fill="none"/><path d="M6.86 -1.74L7.70 0.00" stroke="#e6e6f8" stroke-width="1.12" fill="none"/><path d="M12.24 -2.18L14.34 2.18" stroke="#9090c0" stroke-width="0.77" stroke-linecap="butt" fill="none"/><path d="M10.70 -1.74L11.54 0.00" stroke="#e6e6f8" stroke-width="1.12" fill="none"/><path d="M16.09 -2.18L18.19 2.18" stroke="#9090c0" stroke-width="0.77" stroke-linecap="butt" fill="none"/><path d="M14.55 -1.74L15.39 0.00" stroke="#e6e6f8" stroke-width="1.12" fill="none"/><path d="M18.40 -1.74L19.24 0.00" stroke="#e6e6f8" stroke-width="1.12" fill="none"/></g>
<g transform="translate(304.5 258.4) rotate(111.3)" stroke-linecap="round"><ellipse cx="0.00" cy="0" rx="2.17" ry="3.02" transform="rotate(30 0.00 0)" fill="#7878ac"/><ellipse cx="3.78" cy="0" rx="2.17" ry="3.02" transform="rotate(30 3.78 0)" fill="#7878ac"/><ellipse cx="7.57" cy="0" rx="2.17" ry="3.02" transform="rotate(30 7.57 0)" fill="#7878ac"/><ellipse cx="11.35" cy="0" rx="2.17" ry="3.02" transform="rotate(30 11.35 0)" fill="#7878ac"/><ellipse cx="15.13" cy="0" rx="2.17" ry="3.02" transform="rotate(30 15.13 0)" fill="#7878ac"/><path d="M0 0H15.13" stroke="#7878ac" stroke-width="4.16" fill="none"/><ellipse cx="0.00" cy="0" rx="1.75" ry="2.60" transform="rotate(30 0.00 0)" fill="#b9b9df"/><ellipse cx="3.78" cy="0" rx="1.75" ry="2.60" transform="rotate(30 3.78 0)" fill="#b9b9df"/><ellipse cx="7.57" cy="0" rx="1.75" ry="2.60" transform="rotate(30 7.57 0)" fill="#b9b9df"/><ellipse cx="11.35" cy="0" rx="1.75" ry="2.60" transform="rotate(30 11.35 0)" fill="#b9b9df"/><ellipse cx="15.13" cy="0" rx="1.75" ry="2.60" transform="rotate(30 15.13 0)" fill="#b9b9df"/><path d="M0 0H15.13" stroke="#b9b9df" stroke-width="3.32" fill="none"/><path d="M0.70 -1.95L2.80 1.95" stroke="#9090c0" stroke-width="0.77" stroke-linecap="butt" fill="none"/><path d="M-0.84 -1.56L0.00 0.00" stroke="#e6e6f8" stroke-width="1.12" fill="none"/><path d="M4.48 -1.95L6.58 1.95" stroke="#9090c0" stroke-width="0.77" stroke-linecap="butt" fill="none"/><path d="M2.94 -1.56L3.78 0.00" stroke="#e6e6f8" stroke-width="1.12" fill="none"/><path d="M8.27 -1.95L10.37 1.95" stroke="#9090c0" stroke-width="0.77" stroke-linecap="butt" fill="none"/><path d="M6.73 -1.56L7.57 0.00" stroke="#e6e6f8" stroke-width="1.12" fill="none"/><path d="M12.05 -1.95L14.15 1.95" stroke="#9090c0" stroke-width="0.77" stroke-linecap="butt" fill="none"/><path d="M10.51 -1.56L11.35 0.00" stroke="#e6e6f8" stroke-width="1.12" fill="none"/><path d="M14.29 -1.56L15.13 0.00" stroke="#e6e6f8" stroke-width="1.12" fill="none"/></g>
<g transform="translate(314.0 244.6) rotate(118.3)" stroke-linecap="round"><ellipse cx="0.00" cy="0" rx="2.17" ry="3.02" transform="rotate(30 0.00 0)" fill="#7878ac"/><ellipse cx="3.37" cy="0" rx="2.17" ry="3.02" transform="rotate(30 3.37 0)" fill="#7878ac"/><ellipse cx="6.74" cy="0" rx="2.17" ry="3.02" transform="rotate(30 6.74 0)" fill="#7878ac"/><ellipse cx="10.11" cy="0" rx="2.17" ry="3.02" transform="rotate(30 10.11 0)" fill="#7878ac"/><path d="M0 0H10.11" stroke="#7878ac" stroke-width="4.16" fill="none"/><ellipse cx="0.00" cy="0" rx="1.75" ry="2.60" transform="rotate(30 0.00 0)" fill="#b9b9df"/><ellipse cx="3.37" cy="0" rx="1.75" ry="2.60" transform="rotate(30 3.37 0)" fill="#b9b9df"/><ellipse cx="6.74" cy="0" rx="1.75" ry="2.60" transform="rotate(30 6.74 0)" fill="#b9b9df"/><ellipse cx="10.11" cy="0" rx="1.75" ry="2.60" transform="rotate(30 10.11 0)" fill="#b9b9df"/><path d="M0 0H10.11" stroke="#b9b9df" stroke-width="3.32" fill="none"/><path d="M0.70 -1.95L2.80 1.95" stroke="#9090c0" stroke-width="0.77" stroke-linecap="butt" fill="none"/><path d="M-0.84 -1.56L0.00 0.00" stroke="#e6e6f8" stroke-width="1.12" fill="none"/><path d="M4.07 -1.95L6.17 1.95" stroke="#9090c0" stroke-width="0.77" stroke-linecap="butt" fill="none"/><path d="M2.53 -1.56L3.37 0.00" stroke="#e6e6f8" stroke-width="1.12" fill="none"/><path d="M7.44 -1.95L9.54 1.95" stroke="#9090c0" stroke-width="0.77" stroke-linecap="butt" fill="none"/><path d="M5.90 -1.56L6.74 0.00" stroke="#e6e6f8" stroke-width="1.12" fill="none"/><path d="M9.27 -1.56L10.11 0.00" stroke="#e6e6f8" stroke-width="1.12" fill="none"/></g>
<g transform="translate(326.3 230.2) rotate(46.1)" stroke-linecap="round"><ellipse cx="0.00" cy="0" rx="2.17" ry="2.82" transform="rotate(30 0.00 0)" fill="#7878ac"/><ellipse cx="3.61" cy="0" rx="2.17" ry="2.82" transform="rotate(30 3.61 0)" fill="#7878ac"/><ellipse cx="7.21" cy="0" rx="2.17" ry="2.82" transform="rotate(30 7.21 0)" fill="#7878ac"/><path d="M0 0H7.21" stroke="#7878ac" stroke-width="3.84" fill="none"/><ellipse cx="0.00" cy="0" rx="1.75" ry="2.40" transform="rotate(30 0.00 0)" fill="#b9b9df"/><ellipse cx="3.61" cy="0" rx="1.75" ry="2.40" transform="rotate(30 3.61 0)" fill="#b9b9df"/><ellipse cx="7.21" cy="0" rx="1.75" ry="2.40" transform="rotate(30 7.21 0)" fill="#b9b9df"/><path d="M0 0H7.21" stroke="#b9b9df" stroke-width="3.00" fill="none"/><path d="M0.70 -1.80L2.80 1.80" stroke="#9090c0" stroke-width="0.77" stroke-linecap="butt" fill="none"/><path d="M-0.84 -1.44L0.00 0.00" stroke="#e6e6f8" stroke-width="1.12" fill="none"/><path d="M4.31 -1.80L6.41 1.80" stroke="#9090c0" stroke-width="0.77" stroke-linecap="butt" fill="none"/><path d="M2.77 -1.44L3.61 0.00" stroke="#e6e6f8" stroke-width="1.12" fill="none"/><path d="M6.37 -1.44L7.21 0.00" stroke="#e6e6f8" stroke-width="1.12" fill="none"/></g>
<path d="M255.3 181.3 C256.3 181.5 259.9 180.8 261.3 182.2 C262.7 183.6 264.0 187.3 263.6 189.6 C263.2 191.8 260.1 192.9 259.0 195.7 C257.9 198.5 256.5 202.9 256.8 206.2 C257.1 209.5 259.7 212.3 260.6 215.3 C261.6 218.3 261.7 221.1 262.5 224.0 C263.3 226.9 264.3 230.2 265.5 233.0 C266.7 235.8 267.7 238.5 269.5 240.5 C271.3 242.5 275.3 244.2 276.5 245.0" fill="none" stroke="#d63ad6" stroke-width="0.8" stroke-linejoin="round" stroke-linecap="round"/>
<g transform="translate(277.8 245.5) rotate(10.0)" stroke-linecap="round"><ellipse cx="0.00" cy="0" rx="2.25" ry="4.25" transform="rotate(30 0.00 0)" fill="#8a188a"/><ellipse cx="3.68" cy="0" rx="2.25" ry="4.25" transform="rotate(30 3.68 0)" fill="#8a188a"/><ellipse cx="7.36" cy="0" rx="2.25" ry="4.25" transform="rotate(30 7.36 0)" fill="#8a188a"/><ellipse cx="11.04" cy="0" rx="2.25" ry="4.25" transform="rotate(30 11.04 0)" fill="#8a188a"/><ellipse cx="14.72" cy="0" rx="2.25" ry="4.25" transform="rotate(30 14.72 0)" fill="#8a188a"/><ellipse cx="18.40" cy="0" rx="2.25" ry="4.25" transform="rotate(30 18.40 0)" fill="#8a188a"/><ellipse cx="22.08" cy="0" rx="2.25" ry="4.25" transform="rotate(30 22.08 0)" fill="#8a188a"/><ellipse cx="25.76" cy="0" rx="2.25" ry="4.25" transform="rotate(30 25.76 0)" fill="#8a188a"/><ellipse cx="29.45" cy="0" rx="2.25" ry="4.25" transform="rotate(30 29.45 0)" fill="#8a188a"/><path d="M0 0H29.45" stroke="#8a188a" stroke-width="6.08" fill="none"/><ellipse cx="0.00" cy="0" rx="1.80" ry="3.80" transform="rotate(30 0.00 0)" fill="#dd3cdd"/><ellipse cx="3.68" cy="0" rx="1.80" ry="3.80" transform="rotate(30 3.68 0)" fill="#dd3cdd"/><ellipse cx="7.36" cy="0" rx="1.80" ry="3.80" transform="rotate(30 7.36 0)" fill="#dd3cdd"/><ellipse cx="11.04" cy="0" rx="1.80" ry="3.80" transform="rotate(30 11.04 0)" fill="#dd3cdd"/><ellipse cx="14.72" cy="0" rx="1.80" ry="3.80" transform="rotate(30 14.72 0)" fill="#dd3cdd"/><ellipse cx="18.40" cy="0" rx="1.80" ry="3.80" transform="rotate(30 18.40 0)" fill="#dd3cdd"/><ellipse cx="22.08" cy="0" rx="1.80" ry="3.80" transform="rotate(30 22.08 0)" fill="#dd3cdd"/><ellipse cx="25.76" cy="0" rx="1.80" ry="3.80" transform="rotate(30 25.76 0)" fill="#dd3cdd"/><ellipse cx="29.45" cy="0" rx="1.80" ry="3.80" transform="rotate(30 29.45 0)" fill="#dd3cdd"/><path d="M0 0H29.45" stroke="#dd3cdd" stroke-width="5.18" fill="none"/><path d="M0.72 -2.85L2.88 2.85" stroke="#a020a8" stroke-width="0.79" stroke-linecap="butt" fill="none"/><path d="M-0.86 -2.28L0.00 0.00" stroke="#f5a0f5" stroke-width="1.15" fill="none"/><path d="M4.40 -2.85L6.56 2.85" stroke="#a020a8" stroke-width="0.79" stroke-linecap="butt" fill="none"/><path d="M2.82 -2.28L3.68 0.00" stroke="#f5a0f5" stroke-width="1.15" fill="none"/><path d="M8.08 -2.85L10.24 2.85" stroke="#a020a8" stroke-width="0.79" stroke-linecap="butt" fill="none"/><path d="M6.50 -2.28L7.36 0.00" stroke="#f5a0f5" stroke-width="1.15" fill="none"/><path d="M11.76 -2.85L13.92 2.85" stroke="#a020a8" stroke-width="0.79" stroke-linecap="butt" fill="none"/><path d="M10.18 -2.28L11.04 0.00" stroke="#f5a0f5" stroke-width="1.15" fill="none"/><path d="M15.44 -2.85L17.60 2.85" stroke="#a020a8" stroke-width="0.79" stroke-linecap="butt" fill="none"/><path d="M13.86 -2.28L14.72 0.00" stroke="#f5a0f5" stroke-width="1.15" fill="none"/><path d="M19.12 -2.85L21.28 2.85" stroke="#a020a8" stroke-width="0.79" stroke-linecap="butt" fill="none"/><path d="M17.54 -2.28L18.40 0.00" stroke="#f5a0f5" stroke-width="1.15" fill="none"/><path d="M22.80 -2.85L24.96 2.85" stroke="#a020a8" stroke-width="0.79" stroke-linecap="butt" fill="none"/><path d="M21.22 -2.28L22.08 0.00" stroke="#f5a0f5" stroke-width="1.15" fill="none"/><path d="M26.48 -2.85L28.64 2.85" stroke="#a020a8" stroke-width="0.79" stroke-linecap="butt" fill="none"/><path d="M24.90 -2.28L25.76 0.00" stroke="#f5a0f5" stroke-width="1.15" fill="none"/><path d="M28.58 -2.28L29.45 0.00" stroke="#f5a0f5" stroke-width="1.15" fill="none"/></g>
<g transform="translate(318.3 232.2) rotate(40.1)" stroke-linecap="round"><ellipse cx="0.00" cy="0" rx="2.25" ry="3.95" transform="rotate(30 0.00 0)" fill="#8a188a"/><ellipse cx="3.85" cy="0" rx="2.25" ry="3.95" transform="rotate(30 3.85 0)" fill="#8a188a"/><ellipse cx="7.69" cy="0" rx="2.25" ry="3.95" transform="rotate(30 7.69 0)" fill="#8a188a"/><ellipse cx="11.54" cy="0" rx="2.25" ry="3.95" transform="rotate(30 11.54 0)" fill="#8a188a"/><ellipse cx="15.39" cy="0" rx="2.25" ry="3.95" transform="rotate(30 15.39 0)" fill="#8a188a"/><ellipse cx="19.23" cy="0" rx="2.25" ry="3.95" transform="rotate(30 19.23 0)" fill="#8a188a"/><path d="M0 0H19.23" stroke="#8a188a" stroke-width="5.60" fill="none"/><ellipse cx="0.00" cy="0" rx="1.80" ry="3.50" transform="rotate(30 0.00 0)" fill="#dd3cdd"/><ellipse cx="3.85" cy="0" rx="1.80" ry="3.50" transform="rotate(30 3.85 0)" fill="#dd3cdd"/><ellipse cx="7.69" cy="0" rx="1.80" ry="3.50" transform="rotate(30 7.69 0)" fill="#dd3cdd"/><ellipse cx="11.54" cy="0" rx="1.80" ry="3.50" transform="rotate(30 11.54 0)" fill="#dd3cdd"/><ellipse cx="15.39" cy="0" rx="1.80" ry="3.50" transform="rotate(30 15.39 0)" fill="#dd3cdd"/><ellipse cx="19.23" cy="0" rx="1.80" ry="3.50" transform="rotate(30 19.23 0)" fill="#dd3cdd"/><path d="M0 0H19.23" stroke="#dd3cdd" stroke-width="4.70" fill="none"/><path d="M0.72 -2.62L2.88 2.62" stroke="#a020a8" stroke-width="0.79" stroke-linecap="butt" fill="none"/><path d="M-0.86 -2.10L0.00 0.00" stroke="#f5a0f5" stroke-width="1.15" fill="none"/><path d="M4.57 -2.62L6.73 2.62" stroke="#a020a8" stroke-width="0.79" stroke-linecap="butt" fill="none"/><path d="M2.98 -2.10L3.85 0.00" stroke="#f5a0f5" stroke-width="1.15" fill="none"/><path d="M8.41 -2.62L10.57 2.62" stroke="#a020a8" stroke-width="0.79" stroke-linecap="butt" fill="none"/><path d="M6.83 -2.10L7.69 0.00" stroke="#f5a0f5" stroke-width="1.15" fill="none"/><path d="M12.26 -2.62L14.42 2.62" stroke="#a020a8" stroke-width="0.79" stroke-linecap="butt" fill="none"/><path d="M10.67 -2.10L11.54 0.00" stroke="#f5a0f5" stroke-width="1.15" fill="none"/><path d="M16.11 -2.62L18.27 2.62" stroke="#a020a8" stroke-width="0.79" stroke-linecap="butt" fill="none"/><path d="M14.52 -2.10L15.39 0.00" stroke="#f5a0f5" stroke-width="1.15" fill="none"/><path d="M18.37 -2.10L19.23 0.00" stroke="#f5a0f5" stroke-width="1.15" fill="none"/></g>
<path d="M311.5 242.5 C311.9 241.4 312.8 237.7 314.0 236.0 C315.2 234.3 317.8 233.1 318.5 232.5" fill="none" stroke="#c530c8" stroke-width="2.6" stroke-linejoin="round" stroke-linecap="round"/>
<ellipse cx="311.9" cy="239.2" rx="2.2" ry="2.9" fill="none" stroke="#7a1a8a" stroke-width="1.3"/>
<path d="M297.8 242.4L329.6 207.8" stroke="#c81818" stroke-width="1.1"/>
</g>
<text x="263.3" y="177.9" font-size="6.9" fill="#111" stroke="#111" stroke-width="0.16" textLength="5.3" lengthAdjust="spacingAndGlyphs">C</text>
<text x="300.3" y="180.3" font-size="6.9" fill="#111" stroke="#111" stroke-width="0.16" textLength="49.7" lengthAdjust="spacingAndGlyphs">Catalytic domain</text>
<text x="346.0" y="264.3" font-size="6.9" fill="#111" stroke="#111" stroke-width="0.16" textLength="5.2" lengthAdjust="spacingAndGlyphs">N</text>
<text x="316.9" y="294.0" font-size="6.9" fill="#111" stroke="#111" stroke-width="0.16" textLength="33.1" lengthAdjust="spacingAndGlyphs">TM domain</text>
<text x="253.2" y="259.2" font-size="7.1" fill="#e03ae0" stroke="#e03ae0" stroke-width="0.16" textLength="28.5" lengthAdjust="spacingAndGlyphs">Linker 59</text>
</g>
<g id="tree">
<text x="30.8" y="339.5" font-size="6.9" fill="#111" stroke="#111" stroke-width="0.16" textLength="70.2" lengthAdjust="spacingAndGlyphs">Phylogeny of Linker 59</text>
<path d="M138.2 336.9V347.4M138.2 337H141.6M138.2 347.2H139.6M123.8 342.2H138.2M123.8 342.2V357.7M123.8 357.7H136.6M114.5 351.3H123.8M114.5 351.3V379M96.5 365.6H114.5M96.5 365.6V391M114.5 379H120.4M120.4 368.2V394.3M120.4 368.2H163M120.4 378.5H157.4M120.4 394.3H131.7M131.7 389V399.9M131.7 389H138.6M131.7 399.9H141.6" stroke="#e02a2a" stroke-width="1.05" fill="none" stroke-linecap="square"/>
<path d="M96.5 391V415.7M78.3 391H96.5M96.5 415.7H129.7M129.7 410.5V420.6M129.7 410.5H161M129.7 420.6H136.6M78.3 391V436.1M78.3 436.1H124.9M124.9 431.4V441.7M124.9 431.4H143.6M124.9 441.7H145.6M56.1 413.5H78.3M56.1 413.5V452.4M56.1 452.2H162.5M55.3 454V475.3M31.4 454H55.6M31.4 454V473.4M55.3 475.3H128.8M128.8 468V483.3M128.8 468H135.7M135.7 463V473M135.7 463H139.7M135.7 473H139.7M128.8 483.3H130.8" stroke="#111" stroke-width="1.05" fill="none" stroke-linecap="square"/>
<path d="M55.6 433V453.5" stroke="#111" stroke-width="1.4" fill="none"/>
<path d="M31.4 473.4V493.8H87.2" stroke="#b5b5b5" stroke-width="0.9" fill="none"/>
<path d="M31.4 507H47.2M31.4 504V510M47.2 504V510" stroke="#111" stroke-width="0.9" fill="none"/>
<text x="32.8" y="502.7" font-size="6.9" fill="#111" stroke="#111" stroke-width="0.16" textLength="13.4" lengthAdjust="spacingAndGlyphs">0.20</text>
<text x="129.7" y="339.5" font-size="6.9" fill="#111" stroke="#111" stroke-width="0.16" textLength="7.3" lengthAdjust="spacingAndGlyphs">96</text>
<text x="114.0" y="347.4" font-size="6.9" fill="#111" stroke="#111" stroke-width="0.16" textLength="7.0" lengthAdjust="spacingAndGlyphs">77</text>
<text x="105.0" y="363.2" font-size="6.9" fill="#111" stroke="#111" stroke-width="0.16" textLength="7.9" lengthAdjust="spacingAndGlyphs">55</text>
<text x="111.9" y="388.4" font-size="6.9" fill="#111" stroke="#111" stroke-width="0.16" textLength="7.3" lengthAdjust="spacingAndGlyphs">24</text>
<text x="123.4" y="401.8" font-size="6.9" fill="#111" stroke="#111" stroke-width="0.16" textLength="6.6" lengthAdjust="spacingAndGlyphs">87</text>
<text x="121.4" y="422.6" font-size="6.9" fill="#111" stroke="#111" stroke-width="0.16" textLength="6.9" lengthAdjust="spacingAndGlyphs">82</text>
<text x="87.2" y="388.4" font-size="6.9" fill="#111" stroke="#111" stroke-width="0.16" textLength="7.8" lengthAdjust="spacingAndGlyphs">48</text>
<text x="69.0" y="411.0" font-size="6.9" fill="#111" stroke="#111" stroke-width="0.16" textLength="7.7" lengthAdjust="spacingAndGlyphs">35</text>
<text x="46.6" y="430.8" font-size="6.9" fill="#111" stroke="#111" stroke-width="0.16" textLength="7.4" lengthAdjust="spacingAndGlyphs">35</text>
<text x="116.0" y="443.3" font-size="6.9" fill="#111" stroke="#111" stroke-width="0.16" textLength="7.3" lengthAdjust="spacingAndGlyphs">96</text>
<text x="127.2" y="465.0" font-size="6.9" fill="#111" stroke="#111" stroke-width="0.16" textLength="7.0" lengthAdjust="spacingAndGlyphs">58</text>
<text x="120.3" y="482.3" font-size="6.9" fill="#111" stroke="#111" stroke-width="0.16" textLength="6.9" lengthAdjust="spacingAndGlyphs">98</text>
<text x="147.0" y="338.9" font-size="6.9" fill="#e23c3c" stroke="#e23c3c" stroke-width="0.16" textLength="21.5" lengthAdjust="spacingAndGlyphs">MCR-3</text>
<text x="144.0" y="349.8" font-size="6.9" fill="#8e2332" stroke="#8e2332" stroke-width="0.16" textLength="19.4" lengthAdjust="spacingAndGlyphs">Ah762</text>
<text x="141.2" y="359.7" font-size="6.9" fill="#5a55cc" stroke="#5a55cc" stroke-width="0.16" textLength="19.6" lengthAdjust="spacingAndGlyphs">Ah763</text>
<text x="165.0" y="369.6" font-size="6.9" fill="#34b834" stroke="#34b834" stroke-width="0.16" textLength="21.0" lengthAdjust="spacingAndGlyphs">MCR-7</text>
<text x="162.4" y="380.4" font-size="6.9" fill="#2a96bb" stroke="#2a96bb" stroke-width="0.16" textLength="18.4" lengthAdjust="spacingAndGlyphs">Z1140</text>
<text x="142.0" y="391.0" font-size="6.9" fill="#35c8ec" stroke="#35c8ec" stroke-width="0.16" textLength="21.8" lengthAdjust="spacingAndGlyphs">MCR-9</text>
<text x="147.0" y="401.8" font-size="6.9" fill="#111" stroke="#111" stroke-width="0.16" textLength="24.7" lengthAdjust="spacingAndGlyphs">MCR-10</text>
<text x="165.3" y="412.7" font-size="6.9" fill="#111" stroke="#111" stroke-width="0.16" textLength="25.7" lengthAdjust="spacingAndGlyphs">NMCR-1</text>
<text x="141.0" y="422.6" font-size="6.9" fill="#111" stroke="#111" stroke-width="0.16" textLength="21.4" lengthAdjust="spacingAndGlyphs">MCR-4</text>
<text x="146.2" y="433.4" font-size="6.9" fill="#111" stroke="#111" stroke-width="0.16" textLength="26.8" lengthAdjust="spacingAndGlyphs">NMCR-2</text>
<text x="151.0" y="443.3" font-size="6.9" fill="#111" stroke="#111" stroke-width="0.16" textLength="21.4" lengthAdjust="spacingAndGlyphs">MCR-8</text>
<text x="168.0" y="454.0" font-size="6.9" fill="#111" stroke="#111" stroke-width="0.16" textLength="21.8" lengthAdjust="spacingAndGlyphs">MCR-5</text>
<text x="145.2" y="464.5" font-size="6.9" fill="#111" stroke="#111" stroke-width="0.16" textLength="51.9" lengthAdjust="spacingAndGlyphs">MCR-6 (ICR-Mo)</text>
<text x="146.0" y="475.0" font-size="6.9" fill="#111" stroke="#111" stroke-width="0.16" textLength="20.8" lengthAdjust="spacingAndGlyphs">MCR-1</text>
<text x="135.1" y="485.6" font-size="6.9" fill="#111" stroke="#111" stroke-width="0.16" textLength="21.0" lengthAdjust="spacingAndGlyphs">MCR-2</text>
<text x="91.8" y="496.5" font-size="6.9" fill="#9a8a3c" stroke="#9a8a3c" stroke-width="0.16" textLength="15.2" lengthAdjust="spacingAndGlyphs">EptA</text>
<text x="183.3" y="437.7" font-size="6.9" fill="#111" stroke="#111" stroke-width="0.16" textLength="20.7" lengthAdjust="spacingAndGlyphs">MCR-8</text>
<path d="M186 336.9H188.5V400.2H186" stroke="#e02a2a" stroke-width="0.9" fill="none"/>
<path d="M194 411H197V420.6H194" stroke="#111" stroke-width="1.1" fill="none"/>
<path d="M175 430.4H177.3V441.7H175" stroke="#111" stroke-width="1.1" fill="none"/>
<path d="M199.5 462.1H202.1V484.9H199.5" stroke="#111" stroke-width="1.1" fill="none"/>
<text x="200.5" y="391.3" font-size="6.9" fill="#e23c3c" stroke="#e23c3c" stroke-width="0.16" textLength="46.5" lengthAdjust="spacingAndGlyphs" transform="rotate(-90 200.5 391.3)">MCR-3 lineage</text>
<text x="207.0" y="426.0" font-size="6.9" fill="#111" stroke="#111" stroke-width="0.16" textLength="21.0" lengthAdjust="spacingAndGlyphs" transform="rotate(-90 207.0 426.0)">MCR-4</text>
<text x="213.1" y="488.2" font-size="6.9" fill="#111" stroke="#111" stroke-width="0.16" textLength="31.7" lengthAdjust="spacingAndGlyphs" transform="rotate(-90 213.1 488.2)">MCR-1/2/6</text>
</g>
<g id="cells">
<path d="M269 340.4V346" stroke="#2e9a1e" stroke-width="1.1"/>
<rect x="266.7" y="335.4" width="4.6" height="6" rx="1.5" fill="#a8342a" stroke="#7a3a18" stroke-width="0.4"/>
<path d="M280.3 340.4V346" stroke="#2e9a1e" stroke-width="1.1"/>
<rect x="278.0" y="335.4" width="4.6" height="6" rx="1.5" fill="#a8342a" stroke="#7a3a18" stroke-width="0.4"/>
<path d="M291.3 340.4V346" stroke="#2e9a1e" stroke-width="0.9"/>
<path d="M291.3 335.4L294.0 341.4H288.6Z" fill="#d8f5a0" stroke="#2e9a1e" stroke-width="0.9" stroke-linejoin="miter"/>
<path d="M302.3 340.4V346" stroke="#2e9a1e" stroke-width="1.1"/>
<rect x="300.0" y="335.4" width="4.6" height="6" rx="1.5" fill="#a8342a" stroke="#7a3a18" stroke-width="0.4"/>
<path d="M313.3 340.4V346" stroke="#2e9a1e" stroke-width="1.1"/>
<rect x="311.0" y="335.4" width="4.6" height="6" rx="1.5" fill="#a8342a" stroke="#7a3a18" stroke-width="0.4"/>
<path d="M324.4 340.4V346" stroke="#2e9a1e" stroke-width="1.1"/>
<rect x="322.09999999999997" y="335.4" width="4.6" height="6" rx="1.5" fill="#a8342a" stroke="#7a3a18" stroke-width="0.4"/>
<rect x="264.2" y="346" width="64.6" height="40.30000000000001" rx="6.5" fill="#fbe9b4" stroke="#7e7e2a" stroke-width="1.05"/>
<circle cx="297.8" cy="367.1" r="12.1" fill="none" stroke="#111" stroke-width="1.15"/>
<path d="M291.4 353.34999999999997H299.4V351.65L304.8 355.95L299.4 360.25V358.55H291.4Z" fill="#c0284a" stroke="#8a3fd0" stroke-width="0.6"/>
<text x="286.8" y="368.9" font-size="6.9" fill="#e0303a" stroke="#e0303a" stroke-width="0.16" textLength="21.9" lengthAdjust="spacingAndGlyphs">MCR-3</text>
<path d="M269 398.5V404.1" stroke="#2e9a1e" stroke-width="0.9"/>
<path d="M269 393.5L271.7 399.5H266.3Z" fill="#d8f5a0" stroke="#2e9a1e" stroke-width="0.9" stroke-linejoin="miter"/>
<path d="M280.3 398.5V404.1" stroke="#2e9a1e" stroke-width="0.9"/>
<path d="M280.3 393.5L283.0 399.5H277.6Z" fill="#d8f5a0" stroke="#2e9a1e" stroke-width="0.9" stroke-linejoin="miter"/>
<path d="M291.3 398.5V404.1" stroke="#2e9a1e" stroke-width="0.9"/>
<path d="M291.3 393.5L294.0 399.5H288.6Z" fill="#d8f5a0" stroke="#2e9a1e" stroke-width="0.9" stroke-linejoin="miter"/>
<path d="M302.3 398.5V404.1" stroke="#2e9a1e" stroke-width="0.9"/>
<path d="M302.3 393.5L305.0 399.5H299.6Z" fill="#d8f5a0" stroke="#2e9a1e" stroke-width="0.9" stroke-linejoin="miter"/>
<path d="M313.3 398.5V404.1" stroke="#2e9a1e" stroke-width="0.9"/>
<path d="M313.3 393.5L316.0 399.5H310.6Z" fill="#d8f5a0" stroke="#2e9a1e" stroke-width="0.9" stroke-linejoin="miter"/>
<path d="M324.4 398.5V404.1" stroke="#2e9a1e" stroke-width="0.9"/>
<path d="M324.4 393.5L327.09999999999997 399.5H321.7Z" fill="#d8f5a0" stroke="#2e9a1e" stroke-width="0.9" stroke-linejoin="miter"/>
<rect x="264.2" y="404.1" width="64.6" height="40.0" rx="6.5" fill="#fbe9b4" stroke="#7e7e2a" stroke-width="1.05"/>
<circle cx="297.8" cy="425.1" r="12.1" fill="none" stroke="#111" stroke-width="1.15"/>
<path d="M291.4 411.3H299.4V409.6L304.8 413.90000000000003L299.4 418.20000000000005V416.50000000000006H291.4Z" fill="#a05af0" stroke="#8a3fd0" stroke-width="0.6"/>
<text x="287.6" y="426.9" font-size="6.9" fill="#a060e8" stroke="#a060e8" stroke-width="0.16" textLength="19.6" lengthAdjust="spacingAndGlyphs">Ah763</text>
<path d="M269 455.79999999999995V461.4" stroke="#2e9a1e" stroke-width="1.1"/>
<rect x="266.7" y="450.79999999999995" width="4.6" height="6" rx="1.5" fill="#a8342a" stroke="#7a3a18" stroke-width="0.4"/>
<path d="M280.3 455.79999999999995V461.4" stroke="#2e9a1e" stroke-width="1.1"/>
<rect x="278.0" y="450.79999999999995" width="4.6" height="6" rx="1.5" fill="#a8342a" stroke="#7a3a18" stroke-width="0.4"/>
<path d="M291.3 455.79999999999995V461.4" stroke="#2e9a1e" stroke-width="1.1"/>
<rect x="289.0" y="450.79999999999995" width="4.6" height="6" rx="1.5" fill="#a8342a" stroke="#7a3a18" stroke-width="0.4"/>
<path d="M302.3 455.79999999999995V461.4" stroke="#2e9a1e" stroke-width="1.1"/>
<rect x="300.0" y="450.79999999999995" width="4.6" height="6" rx="1.5" fill="#a8342a" stroke="#7a3a18" stroke-width="0.4"/>
<path d="M313.3 455.79999999999995V461.4" stroke="#2e9a1e" stroke-width="0.9"/>
<path d="M313.3 450.79999999999995L316.0 456.79999999999995H310.6Z" fill="#d8f5a0" stroke="#2e9a1e" stroke-width="0.9" stroke-linejoin="miter"/>
<path d="M324.4 455.79999999999995V461.4" stroke="#2e9a1e" stroke-width="1.1"/>
<rect x="322.09999999999997" y="450.79999999999995" width="4.6" height="6" rx="1.5" fill="#a8342a" stroke="#7a3a18" stroke-width="0.4"/>
<rect x="264.2" y="461.4" width="64.6" height="39.5" rx="6.5" fill="#fbe9b4" stroke="#7e7e2a" stroke-width="1.05"/>
<circle cx="297.8" cy="482.1" r="12.1" fill="none" stroke="#111" stroke-width="1.15"/>
<path d="M291.4 468.34999999999997H299.4V466.65L304.8 470.95L299.4 475.25V473.55H291.4Z" fill="#a05af0" stroke="#8a3fd0" stroke-width="0.6"/>
<rect x="294.6" y="468.34999999999997" width="3.4" height="5.2" fill="#d42a3c"/>
<text x="253.7" y="369.0" font-size="6.9" fill="#e0404a" stroke="#e0404a" stroke-width="0.16" textLength="4.6" lengthAdjust="spacingAndGlyphs">R</text>
<text x="253.7" y="427.0" font-size="6.9" fill="#38a848" stroke="#38a848" stroke-width="0.16" textLength="4.4" lengthAdjust="spacingAndGlyphs">S</text>
<text x="253.7" y="483.8" font-size="6.9" fill="#e0404a" stroke="#e0404a" stroke-width="0.16" textLength="4.6" lengthAdjust="spacingAndGlyphs">R</text>
<text x="266.7" y="510.3" font-size="6.9" textLength="60.3" lengthAdjust="spacingAndGlyphs"><tspan fill="#a060e8">ΔLK(Ah763)-</tspan><tspan fill="#e0303a">MCR-3</tspan></text>
<path d="M338.5 391.6V397" stroke="#2e9a1e" stroke-width="0.9"/>
<path d="M338.5 386.6L341.2 392.6H335.8Z" fill="#d8f5a0" stroke="#2e9a1e" stroke-width="0.9" stroke-linejoin="miter"/>
<path d="M338.5 452.4V458" stroke="#2e9a1e" stroke-width="1.1"/>
<rect x="336.2" y="447.4" width="4.6" height="6" rx="1.5" fill="#a8342a" stroke="#7a3a18" stroke-width="0.4"/>
<text x="351.7" y="400.0" font-size="6.9" fill="#111" stroke="#111" stroke-width="0.16" textLength="19.6" lengthAdjust="spacingAndGlyphs" transform="rotate(-90 351.7 400.0)">Lipid A</text>
<text x="351.7" y="475.4" font-size="6.9" fill="#111" stroke="#111" stroke-width="0.16" textLength="45.8" lengthAdjust="spacingAndGlyphs" transform="rotate(-90 351.7 475.4)">PPEA-4'-lipid A</text>
</g>
</svg></body></html>
